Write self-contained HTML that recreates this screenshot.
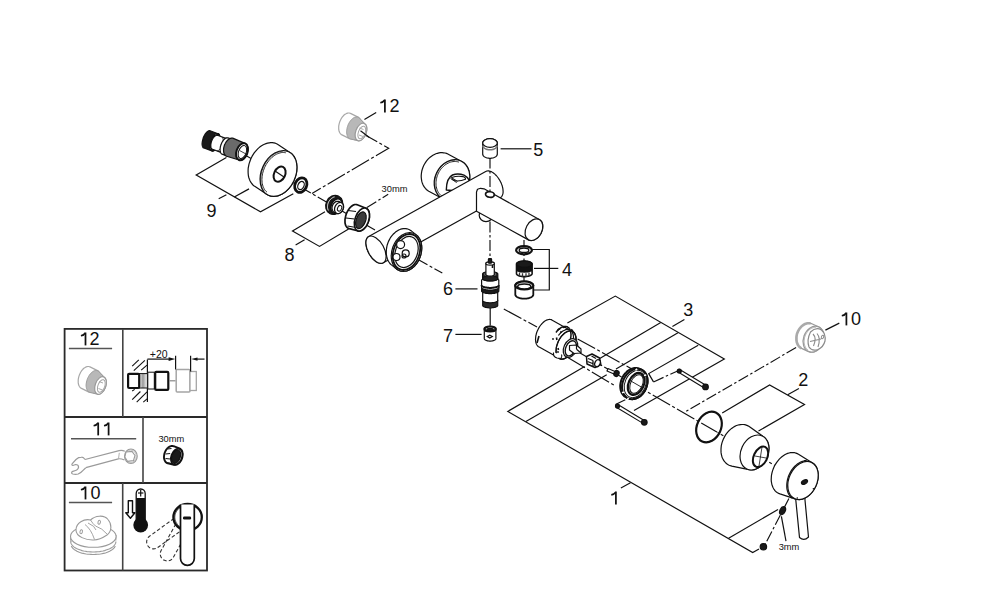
<!DOCTYPE html>
<html><head><meta charset="utf-8"><style>
html,body{margin:0;padding:0;background:#fff;width:1000px;height:610px;overflow:hidden}
svg{display:block}
text{font-family:"Liberation Sans",sans-serif;fill:#111}
.lb{font-size:17.5px}
.sm{font-size:9.5px}
.ln{stroke:#111;stroke-width:1.2;fill:none}
.bx{stroke:#2a2a2a;stroke-width:1.8;fill:none}
.da{stroke:#111;stroke-width:1.15;fill:none;stroke-dasharray:20 2.5 3 2.5}
.dd{stroke:#111;stroke-width:1.15;fill:none;stroke-dasharray:11 2.5 2.5 2.5}
.o{stroke:#111;stroke-width:1.2;fill:#fff;stroke-linejoin:round}
.dk{stroke:#111;stroke-width:1.2;fill:#1a1a1a}
.gr{stroke:#111;stroke-width:1.2;fill:#666}
.g{stroke:#9a9a9a;stroke-width:1;fill:#fff}
</style></head><body>
<svg width="1000" height="610" viewBox="0 0 1000 610">
<polyline points="226.4,157.4 196.2,175.0 260.5,211.8 293.3,193.8" class="ln" />
<line x1="234.3" y1="197.0" x2="249.0" y2="188.9" class="ln" />
<line x1="218.7" y1="198.7" x2="226.4" y2="194.8" class="ln" />
<line x1="364.4" y1="119.5" x2="376.2" y2="112.5" class="ln" />
<polyline points="325.0,211.7 292.5,230.9 319.5,246.4 348.6,228.9" class="ln" />
<line x1="295.6" y1="245.0" x2="304.6" y2="239.8" class="ln" />
<line x1="500.6" y1="148.8" x2="531.5" y2="148.8" class="ln" />
<polyline points="532.1,249.5 549.3,249.5 549.3,290.0 534.0,290.0" class="ln" />
<line x1="534.0" y1="268.4" x2="558.3" y2="268.4" class="ln" />
<line x1="455.4" y1="288.9" x2="477.5" y2="288.9" class="ln" />
<line x1="455.4" y1="334.4" x2="481.6" y2="334.4" class="ln" />
<polyline points="567.4,323.1 615.3,296.1 724.3,359.0 634.0,410.5" class="ln" />
<line x1="660.8" y1="322.6" x2="599.3" y2="358.8" class="ln" />
<line x1="678.0" y1="332.7" x2="616.0" y2="369.0" class="ln" />
<polyline points="698.2,345.2 648.7,373.6 653.5,381.9" class="ln" />
<line x1="653.5" y1="381.9" x2="677.6" y2="371.0" class="dd" />
<line x1="672.4" y1="326.5" x2="684.4" y2="319.6" class="ln" />
<polyline points="584.6,366.6 507.8,411.4 752.7,552.6 759.0,549.1" class="ln" />
<line x1="525.9" y1="421.6" x2="606.7" y2="374.8" class="ln" />
<line x1="728.6" y1="538.2" x2="778.0" y2="509.5" class="ln" />
<line x1="620.9" y1="488.0" x2="630.5" y2="482.8" class="ln" />
<polyline points="722.2,412.9 769.6,385.0 804.5,404.5 758.5,431.0" class="ln" />
<line x1="787.7" y1="394.8" x2="798.9" y2="388.6" class="ln" />
<line x1="825.4" y1="330.1" x2="839.3" y2="323.1" class="ln" />
<line x1="781.4" y1="516.4" x2="786.0" y2="541.1" class="ln" />
<polyline points="245.0,155.0 375.0,230.0" class="da" />
<polyline points="359.8,132.0 388.7,148.3 312.0,193.4" class="da" />
<line x1="366.9" y1="207.4" x2="388.2" y2="194.3" class="dd" />
<line x1="490.2" y1="308.0" x2="490.2" y2="325.4" class="ln" />
<line x1="524.0" y1="240.0" x2="524.0" y2="282.0" class="dd" />
<line x1="410.0" y1="255.0" x2="442.3" y2="273.0" class="da" />
<line x1="503.8" y1="309.0" x2="537.0" y2="327.0" class="da" />
<line x1="577.6" y1="338.9" x2="635.0" y2="370.8" class="da" />
<line x1="567.8" y1="357.6" x2="614.0" y2="385.1" class="da" />
<line x1="580.0" y1="353.0" x2="800.0" y2="480.0" class="da" />
<line x1="796.1" y1="347.6" x2="684.6" y2="412.2" class="dd" />
<line x1="615.5" y1="404.6" x2="625.8" y2="399.4" class="dd" />
<line x1="788.9" y1="498.6" x2="765.3" y2="544.0" class="dd" />
<path d="M202.1,143.9 L202.1,143.2 L202.2,142.5 L202.3,141.8 L202.4,141.1 L202.6,140.3 L202.8,139.6 L203.0,138.8 L203.2,138.0 L203.5,137.3 L203.8,136.6 L204.2,135.8 L204.5,135.2 L204.9,134.5 L205.3,133.9 L205.7,133.3 L206.1,132.8 L206.6,132.3 L207.0,131.9 L207.4,131.5 L207.8,131.2 L208.3,131.0 L208.7,130.8 L209.1,130.7 L209.4,130.6 L209.8,130.7 L210.1,130.8 L218.1,133.7 L218.5,133.8 L218.8,134.0 L219.0,134.3 L219.2,134.6 L219.4,135.0 L219.6,135.5 L219.7,136.0 L219.8,136.6 L219.9,137.2 L219.9,137.8 L219.9,138.5 L219.8,139.2 L219.7,139.9 L219.6,140.6 L219.4,141.4 L219.2,142.1 L219.0,142.9 L218.8,143.7 L218.5,144.4 L218.2,145.1 L217.8,145.9 L217.5,146.5 L217.1,147.2 L216.7,147.8 L216.3,148.4 L215.9,148.9 L215.4,149.4 L215.0,149.8 L214.6,150.2 L214.2,150.5 L213.7,150.7 L213.3,150.9 L212.9,151.0 L212.6,151.1 L212.2,151.0 L211.9,150.9 L203.9,148.0 L203.5,147.9 L203.2,147.7 L203.0,147.4 L202.8,147.1 L202.6,146.7 L202.4,146.2 L202.3,145.7 L202.2,145.1 L202.1,144.5 Z" class="dk" /><ellipse cx="215.0" cy="142.3" rx="4.0" ry="9.2" transform="rotate(20 215.0 142.3)" class="dk" />
<path d="M215.6,134.0 L215.7,134.3 L215.8,134.6 L215.8,135.0 L215.9,135.3 L215.9,135.7 L215.9,136.1 L215.9,136.5 L215.9,136.9 L215.9,137.3 L215.8,137.8 L215.8,138.2 L215.7,138.7 L215.6,139.1 L215.5,139.6 L215.4,140.1 L215.3,140.5 L215.1,141.0 L215.0,141.5 L214.8,141.9 L214.7,142.4 L214.5,142.9 L214.3,143.3 L214.1,143.8 L213.9,144.2 L213.7,144.6 L213.5,145.0 L213.2,145.4 L213.0,145.8 L212.7,146.2 L212.5,146.6 L212.2,146.9 L212.0,147.2 L211.7,147.6 L211.5,147.8 L211.2,148.1 L210.9,148.4 L210.7,148.6 L210.4,148.8 L210.2,149.0" class="ln" style="fill:none;stroke:#777;stroke-width:0.8"/>
<path d="M210.8,145.3 L210.8,144.7 L210.9,144.1 L211.0,143.5 L211.1,142.9 L211.2,142.3 L211.4,141.7 L211.6,141.1 L211.9,140.5 L212.1,139.9 L212.4,139.3 L212.7,138.8 L213.0,138.2 L213.3,137.8 L213.7,137.3 L214.0,136.9 L214.4,136.5 L214.8,136.2 L215.1,135.9 L215.5,135.7 L215.9,135.5 L216.2,135.3 L216.6,135.3 L216.9,135.2 L217.2,135.3 L217.5,135.3 L226.5,138.6 L226.8,138.8 L227.1,139.0 L227.3,139.2 L227.5,139.5 L227.7,139.8 L227.9,140.2 L228.0,140.6 L228.1,141.1 L228.2,141.6 L228.2,142.1 L228.2,142.6 L228.2,143.2 L228.1,143.8 L228.0,144.4 L227.9,145.0 L227.8,145.6 L227.6,146.2 L227.4,146.8 L227.1,147.4 L226.9,148.0 L226.6,148.6 L226.3,149.1 L226.0,149.7 L225.7,150.1 L225.3,150.6 L225.0,151.0 L224.6,151.4 L224.2,151.7 L223.9,152.0 L223.5,152.2 L223.1,152.4 L222.8,152.6 L222.4,152.6 L222.1,152.7 L221.8,152.6 L221.5,152.6 L212.5,149.3 L212.2,149.1 L211.9,148.9 L211.7,148.7 L211.5,148.4 L211.3,148.1 L211.1,147.7 L211.0,147.3 L210.9,146.8 L210.8,146.3 L210.8,145.8 Z" class="o" />
<path d="M222.1,137.2 L222.3,137.4 L222.5,137.6 L222.6,137.8 L222.8,138.1 L222.9,138.4 L223.0,138.8 L223.1,139.1 L223.2,139.5 L223.2,140.0 L223.2,140.4 L223.2,140.8 L223.2,141.3 L223.2,141.8 L223.1,142.3 L223.0,142.8 L222.9,143.3 L222.8,143.8 L222.6,144.3 L222.5,144.8 L222.3,145.3 L222.1,145.8 L221.9,146.2 L221.6,146.7 L221.4,147.2 L221.2,147.6 L220.9,148.0 L220.6,148.4 L220.3,148.8 L220.0,149.1 L219.7,149.4 L219.4,149.7 L219.1,150.0 L218.8,150.2 L218.5,150.4 L218.2,150.6 L217.9,150.7 L217.7,150.8 L217.4,150.8 L217.1,150.9" class="ln" style="fill:none;stroke-width:1"/>
<path d="M224.1,137.9 L224.3,138.1 L224.5,138.3 L224.6,138.5 L224.8,138.8 L224.9,139.1 L225.0,139.5 L225.1,139.8 L225.2,140.2 L225.2,140.7 L225.2,141.1 L225.2,141.5 L225.2,142.0 L225.2,142.5 L225.1,143.0 L225.0,143.5 L224.9,144.0 L224.8,144.5 L224.6,145.0 L224.5,145.5 L224.3,146.0 L224.1,146.5 L223.9,146.9 L223.6,147.4 L223.4,147.9 L223.2,148.3 L222.9,148.7 L222.6,149.1 L222.3,149.5 L222.0,149.8 L221.7,150.1 L221.4,150.4 L221.1,150.7 L220.8,150.9 L220.5,151.1 L220.2,151.3 L219.9,151.4 L219.7,151.5 L219.4,151.5 L219.1,151.6" class="ln" style="fill:none;stroke-width:0.8"/>
<path d="M220.1,149.5 L220.1,148.8 L220.2,148.1 L220.3,147.4 L220.4,146.7 L220.6,146.0 L220.8,145.3 L221.1,144.6 L221.3,143.9 L221.6,143.2 L221.9,142.5 L222.3,141.9 L222.7,141.3 L223.1,140.7 L223.5,140.2 L223.9,139.7 L224.3,139.3 L224.7,138.9 L225.1,138.6 L225.6,138.3 L226.0,138.1 L226.4,137.9 L226.8,137.8 L227.2,137.8 L227.6,137.8 L227.9,137.9 L231.9,139.4 L232.3,139.6 L232.6,139.8 L232.9,140.1 L233.1,140.4 L233.3,140.8 L233.5,141.2 L233.7,141.7 L233.8,142.2 L233.9,142.8 L233.9,143.4 L233.9,144.0 L233.9,144.7 L233.8,145.4 L233.7,146.1 L233.6,146.8 L233.4,147.5 L233.2,148.2 L232.9,148.9 L232.7,149.6 L232.4,150.3 L232.1,151.0 L231.7,151.6 L231.3,152.2 L230.9,152.8 L230.5,153.3 L230.1,153.8 L229.7,154.2 L229.3,154.6 L228.9,154.9 L228.4,155.2 L228.0,155.4 L227.6,155.6 L227.2,155.7 L226.8,155.7 L226.4,155.7 L226.1,155.6 L222.1,154.1 L221.7,153.9 L221.4,153.7 L221.1,153.4 L220.9,153.1 L220.7,152.7 L220.5,152.3 L220.3,151.8 L220.2,151.3 L220.1,150.7 L220.1,150.1 Z" class="o" /><ellipse cx="229.0" cy="147.5" rx="4.2" ry="8.6" transform="rotate(20 229.0 147.5)" class="o" />
<path d="M223.5,150.0 L223.6,149.2 L223.6,148.4 L223.8,147.6 L223.9,146.9 L224.2,146.1 L224.4,145.3 L224.7,144.5 L225.1,143.7 L225.4,143.0 L225.9,142.3 L226.3,141.7 L226.8,141.1 L227.3,140.5 L227.8,140.0 L228.4,139.5 L228.9,139.2 L229.5,138.8 L230.0,138.5 L230.6,138.3 L231.1,138.2 L231.7,138.1 L232.2,138.2 L232.8,138.2 L233.3,138.4 L245.0,143.4 L245.4,143.6 L245.9,143.9 L246.2,144.2 L246.6,144.6 L246.9,145.0 L247.2,145.5 L247.4,146.0 L247.6,146.6 L247.8,147.2 L247.9,147.8 L248.0,148.5 L248.0,149.2 L248.0,149.9 L247.9,150.6 L247.8,151.4 L247.6,152.1 L247.4,152.9 L247.2,153.6 L246.9,154.3 L246.6,155.0 L246.2,155.7 L245.8,156.3 L245.4,156.9 L245.0,157.5 L244.5,158.0 L244.0,158.5 L243.5,158.9 L243.0,159.2 L242.5,159.6 L242.0,159.8 L241.5,160.0 L240.9,160.1 L240.4,160.2 L239.9,160.2 L239.5,160.1 L239.0,160.0 L226.7,156.2 L226.3,156.0 L225.8,155.7 L225.4,155.4 L225.0,155.0 L224.7,154.5 L224.4,154.0 L224.1,153.5 L223.9,152.8 L223.8,152.2 L223.6,151.5 L223.6,150.8 Z" class="gr" style="fill:#6a6a6a"/>
<ellipse cx="242.0" cy="151.7" rx="5.5" ry="8.8" transform="rotate(20 242.0 151.7)" class="o" style="stroke-width:2"/>
<ellipse cx="242.4" cy="152.0" rx="3.8" ry="6.8" transform="rotate(20 242.4 152.0)" class="o" style="stroke-width:1"/>
<line x1="239.5" y1="150.5" x2="246.0" y2="154.0" class="ln" style="stroke-width:0.8"/>
<path d="M248.1,172.1 L248.1,170.2 L248.2,168.2 L248.6,166.2 L249.0,164.2 L249.6,162.2 L250.3,160.2 L251.1,158.3 L252.0,156.4 L253.1,154.6 L254.2,152.9 L255.5,151.3 L256.8,149.8 L258.2,148.4 L259.7,147.1 L261.2,146.0 L262.8,145.0 L264.4,144.2 L266.0,143.6 L267.6,143.1 L269.2,142.8 L270.8,142.6 L272.3,142.6 L273.8,142.8 L275.3,143.2 L276.6,143.7 L277.9,144.5 L289.9,152.5 L291.2,153.3 L292.3,154.3 L293.3,155.5 L294.2,156.8 L295.0,158.3 L295.6,159.8 L296.2,161.5 L296.6,163.2 L296.8,165.0 L296.9,166.9 L296.9,168.8 L296.8,170.8 L296.4,172.8 L296.0,174.8 L295.4,176.8 L294.7,178.8 L293.9,180.7 L293.0,182.6 L291.9,184.4 L290.8,186.1 L289.5,187.7 L288.2,189.2 L286.8,190.6 L285.3,191.9 L283.8,193.0 L282.2,194.0 L280.6,194.8 L279.0,195.4 L277.4,195.9 L275.8,196.2 L274.2,196.4 L272.7,196.4 L271.2,196.2 L269.7,195.8 L268.4,195.3 L267.1,194.5 L255.1,186.5 L253.8,185.7 L252.7,184.7 L251.7,183.5 L250.8,182.2 L250.0,180.7 L249.4,179.2 L248.8,177.5 L248.4,175.8 L248.2,174.0 Z" class="o" /><ellipse cx="278.5" cy="173.5" rx="17.0" ry="24.0" transform="rotate(25 278.5 173.5)" class="o" />
<path d="M266.9,192.1 L266.1,191.4 L265.3,190.5 L264.6,189.6 L264.0,188.5 L263.5,187.4 L263.0,186.3 L262.6,185.0 L262.3,183.7 L262.1,182.4 L262.0,181.0 L261.9,179.5 L262.0,178.0 L262.1,176.5 L262.3,175.0 L262.6,173.5 L263.0,172.0 L263.5,170.5 L264.0,169.0 L264.6,167.5 L265.3,166.1 L266.1,164.6 L266.9,163.3 L267.8,162.0 L268.8,160.7 L269.8,159.6 L270.8,158.5 L271.9,157.4 L273.0,156.5 L274.1,155.6 L275.3,154.9 L276.5,154.2 L277.7,153.7 L278.9,153.2 L280.1,152.9 L281.3,152.6 L282.5,152.5 L283.6,152.5 L284.7,152.6 L285.8,152.8" class="ln" style="fill:none;stroke-width:0.9"/>
<path d="M264.1,191.1 L263.5,190.2 L262.9,189.2 L262.4,188.2 L261.9,187.1 L261.6,186.0 L261.2,184.8 L261.0,183.6 L260.8,182.3 L260.7,181.0 L260.6,179.7 L260.7,178.3 L260.8,176.9 L260.9,175.5 L261.2,174.1 L261.5,172.7 L261.8,171.3 L262.3,170.0 L262.8,168.6 L263.3,167.2 L264.0,165.9 L264.6,164.6 L265.4,163.3 L266.1,162.1 L267.0,160.9 L267.9,159.8 L268.8,158.7 L269.7,157.7 L270.7,156.8 L271.7,155.9 L272.8,155.0 L273.9,154.3 L274.9,153.6 L276.0,153.0 L277.2,152.5 L278.3,152.1 L279.4,151.7 L280.5,151.5 L281.6,151.3 L282.7,151.2" class="ln" style="fill:none;stroke-width:0.7"/>
<line x1="280.0" y1="170.5" x2="282.5" y2="178.0" class="ln" style="stroke-width:0.8"/>
<ellipse cx="279.6" cy="174.2" rx="5.5" ry="8.0" transform="rotate(25 279.6 174.2)" class="o" style="stroke-width:2"/>
<line x1="275.0" y1="171.0" x2="284.0" y2="177.0" class="ln" />
<ellipse cx="300.8" cy="185.1" rx="5.8" ry="7.5" transform="rotate(25 300.8 185.1)" class="o" style="stroke-width:2.8"/>
<ellipse cx="301.0" cy="185.5" rx="3.0" ry="4.3" transform="rotate(25 301.0 185.5)" class="ln" />
<path d="M338.7,127.4 L338.7,126.5 L338.8,125.6 L339.0,124.6 L339.2,123.7 L339.5,122.7 L339.8,121.7 L340.2,120.8 L340.6,119.9 L341.0,119.0 L341.5,118.2 L342.0,117.4 L342.6,116.6 L343.2,116.0 L343.8,115.3 L344.4,114.8 L345.0,114.3 L345.7,113.9 L346.3,113.5 L346.9,113.3 L347.6,113.1 L348.2,113.0 L348.8,113.0 L349.4,113.0 L349.9,113.2 L350.5,113.4 L358.5,117.4 L359.0,117.7 L359.4,118.1 L359.8,118.6 L360.2,119.2 L360.5,119.8 L360.8,120.4 L361.0,121.2 L361.2,122.0 L361.3,122.8 L361.3,123.7 L361.3,124.6 L361.3,125.5 L361.2,126.4 L361.0,127.4 L360.8,128.3 L360.5,129.3 L360.2,130.3 L359.8,131.2 L359.4,132.1 L359.0,133.0 L358.5,133.8 L358.0,134.6 L357.4,135.4 L356.8,136.0 L356.2,136.7 L355.6,137.2 L355.0,137.7 L354.3,138.1 L353.7,138.5 L353.1,138.7 L352.4,138.9 L351.8,139.0 L351.2,139.0 L350.6,139.0 L350.1,138.8 L349.5,138.6 L341.5,134.6 L341.0,134.3 L340.6,133.9 L340.2,133.4 L339.8,132.8 L339.5,132.2 L339.2,131.6 L339.0,130.8 L338.8,130.0 L338.7,129.2 L338.7,128.3 Z" class="g" style="stroke:#a8a8a8;stroke-width:1.2"/><path d="M346.6,131.4 L346.7,130.5 L346.8,129.6 L347.0,128.6 L347.2,127.6 L347.5,126.7 L347.8,125.7 L348.1,124.8 L348.6,123.9 L349.0,123.0 L349.5,122.2 L350.0,121.4 L350.6,120.6 L351.2,119.9 L351.8,119.3 L352.4,118.8 L353.0,118.3 L353.7,117.8 L354.3,117.5 L354.9,117.2 L355.6,117.1 L356.2,117.0 L356.8,117.0 L357.4,117.0 L357.9,117.2 L358.5,117.4 L359.0,117.8 L359.4,118.1 L365.3,124.1 L365.7,124.5 L366.0,124.9 L366.2,125.4 L366.4,126.0 L366.6,126.5 L366.7,127.2 L366.8,127.8 L366.9,128.5 L366.9,129.2 L366.8,130.0 L366.8,130.7 L366.6,131.5 L366.5,132.3 L366.2,133.1 L366.0,133.8 L365.7,134.6 L365.4,135.3 L365.0,136.0 L364.6,136.7 L364.2,137.3 L363.7,137.9 L363.3,138.4 L362.8,138.9 L362.3,139.4 L361.8,139.8 L361.3,140.1 L360.8,140.4 L360.3,140.6 L359.7,140.7 L359.2,140.8 L358.8,140.8 L358.3,140.8 L350.6,139.0 L350.1,138.8 L349.5,138.6 L349.0,138.2 L348.6,137.9 L348.2,137.4 L347.8,136.8 L347.5,136.2 L347.2,135.6 L347.0,134.8 L346.8,134.0 L346.7,133.2 L346.6,132.3 Z" class="g" style="fill:#b8b8b8;stroke:#9a9a9a;stroke-width:1"/><path d="M361.0,120.3 L361.5,120.5 L361.9,120.8 L362.3,121.1 L362.6,121.5 L363.0,121.9 L363.2,122.4 L363.5,122.9 L363.7,123.5 L363.9,124.1 L364.0,124.8 L364.1,125.5 L364.1,126.2 L364.1,126.9 L364.1,127.7 L364.0,128.5 L363.9,129.3 L363.7,130.1 L363.5,130.9 L363.3,131.7 L363.0,132.4 L362.7,133.2 L362.3,133.9 L361.9,134.7 L361.5,135.4 L361.1,136.0 L360.6,136.6 L360.1,137.2 L359.6,137.7 L359.1,138.2 L358.6,138.6 L358.1,139.0 L357.5,139.3 L357.0,139.5 L356.5,139.7 L355.9,139.8 L355.4,139.9 L354.9,139.9 L354.4,139.8 L354.0,139.7" class="ln" style="fill:none;stroke:#999;stroke-width:0.7"/><ellipse cx="361.0" cy="132.0" rx="5.3" ry="9.2" transform="rotate(20 361.0 132.0)" class="g" style="stroke:#999;stroke-width:1.2"/><ellipse cx="361.8" cy="132.5" rx="3.4" ry="6.6" transform="rotate(20 361.8 132.5)" class="g" style="stroke:#a5a5a5;stroke-width:1"/><path d="M359.5,128 L363.5,129.5 M359,135 L363,136.5" class="g" style="stroke:#aaa;stroke-width:1"/><line x1="360.5" y1="130.8" x2="369.0" y2="137.2" class="ln" />
<ellipse cx="334.2" cy="204.9" rx="8.3" ry="9.8" transform="rotate(25 334.2 204.9)" class="dk" />
<ellipse cx="336.6" cy="206.1" rx="5.4" ry="7.6" transform="rotate(25 336.6 206.1)" class="o" style="stroke-width:1.5"/>
<path d="M328.3,210.4 L328.1,210.0 L328.0,209.7 L327.9,209.3 L327.7,208.9 L327.7,208.5 L327.6,208.1 L327.5,207.7 L327.5,207.3 L327.5,206.8 L327.5,206.4 L327.5,206.0 L327.6,205.5 L327.6,205.1 L327.7,204.6 L327.8,204.2 L327.9,203.8 L328.1,203.3 L328.2,202.9 L328.4,202.5 L328.6,202.0 L328.8,201.6 L329.0,201.2 L329.3,200.8 L329.5,200.5 L329.8,200.1 L330.1,199.8 L330.4,199.4 L330.7,199.1 L331.0,198.8 L331.4,198.5 L331.7,198.2 L332.0,198.0 L332.4,197.8 L332.8,197.6 L333.1,197.4 L333.5,197.2 L333.9,197.1 L334.2,197.0 L334.6,196.9" class="ln" style="fill:none;stroke:#fff;stroke-width:1"/>
<path d="M332.0,208.4 L332.0,207.9 L332.0,207.4 L332.1,206.9 L332.2,206.4 L332.3,206.0 L332.5,205.5 L332.7,205.0 L332.9,204.6 L333.2,204.1 L333.5,203.7 L333.8,203.3 L334.1,203.0 L334.4,202.6 L334.8,202.3 L335.2,202.1 L335.5,201.8 L335.9,201.6 L336.3,201.5 L336.7,201.4 L337.1,201.3 L337.5,201.3 L337.9,201.3 L338.3,201.3 L338.6,201.4 L339.0,201.5 L341.5,202.7 L341.8,202.9 L342.1,203.1 L342.4,203.4 L342.6,203.7 L342.8,204.0 L343.0,204.3 L343.2,204.7 L343.3,205.1 L343.4,205.5 L343.5,206.0 L343.5,206.4 L343.5,206.9 L343.5,207.4 L343.4,207.9 L343.3,208.4 L343.2,208.8 L343.0,209.3 L342.8,209.8 L342.6,210.2 L342.3,210.7 L342.0,211.1 L341.7,211.5 L341.4,211.8 L341.1,212.2 L340.7,212.5 L340.3,212.7 L340.0,213.0 L339.6,213.2 L339.2,213.3 L338.8,213.4 L338.4,213.5 L338.0,213.5 L337.6,213.5 L337.2,213.5 L336.9,213.4 L336.5,213.3 L334.0,212.1 L333.7,211.9 L333.4,211.7 L333.1,211.4 L332.9,211.1 L332.7,210.8 L332.5,210.5 L332.3,210.1 L332.2,209.7 L332.1,209.3 L332.0,208.8 Z" class="o" style="stroke-width:1.3"/><ellipse cx="339.0" cy="208.0" rx="4.2" ry="5.8" transform="rotate(25 339.0 208.0)" class="o" style="stroke-width:1.3"/>
<ellipse cx="339.6" cy="208.3" rx="2.0" ry="3.0" transform="rotate(25 339.6 208.3)" class="ln" style="stroke-width:1"/>
<path d="M345.0,221.4 L345.0,220.4 L345.0,219.4 L345.2,218.4 L345.4,217.3 L345.6,216.3 L345.9,215.2 L346.2,214.2 L346.6,213.2 L347.1,212.2 L347.6,211.2 L348.1,210.3 L348.7,209.4 L349.3,208.6 L349.9,207.8 L350.6,207.1 L351.2,206.5 L351.9,206.0 L352.6,205.5 L353.3,205.1 L354.0,204.8 L354.7,204.6 L355.3,204.5 L356.0,204.5 L356.6,204.6 L357.2,204.8 L366.0,208.3 L366.5,208.6 L367.0,208.9 L367.5,209.3 L367.9,209.8 L368.3,210.4 L368.6,211.0 L368.9,211.7 L369.1,212.4 L369.3,213.3 L369.4,214.1 L369.4,215.0 L369.4,216.0 L369.4,216.9 L369.3,217.9 L369.1,218.9 L368.9,219.9 L368.6,220.9 L368.2,221.9 L367.9,222.9 L367.4,223.8 L367.0,224.7 L366.5,225.6 L365.9,226.5 L365.3,227.2 L364.7,228.0 L364.1,228.6 L363.5,229.2 L362.8,229.7 L362.2,230.2 L361.5,230.5 L360.9,230.8 L360.2,231.0 L359.6,231.1 L359.0,231.1 L358.4,231.0 L349.2,228.6 L348.6,228.4 L348.0,228.2 L347.5,227.8 L347.0,227.4 L346.6,226.9 L346.2,226.3 L345.8,225.6 L345.5,224.9 L345.3,224.1 L345.1,223.3 L345.0,222.4 Z" class="o" style="stroke-width:1.7"/>
<path d="M348,210.5 L356,211.5 M346,218 L354.5,219 M347.5,226 L356,227.5" class="ln" style="stroke-width:1.1"/>
<ellipse cx="361.9" cy="219.6" rx="6.8" ry="12.0" transform="rotate(20 361.9 219.6)" class="o" style="stroke-width:1.6"/>
<ellipse cx="360.9" cy="220.2" rx="4.7" ry="8.7" transform="rotate(20 360.9 220.2)" class="gr" style="fill:#3a3a3a"/>
<path d="M421.2,176.3 L421.3,174.5 L421.5,172.8 L421.8,171.0 L422.3,169.2 L422.9,167.5 L423.6,165.8 L424.4,164.2 L425.4,162.6 L426.4,161.1 L427.6,159.7 L428.8,158.4 L430.1,157.3 L431.5,156.2 L432.9,155.3 L434.4,154.5 L435.9,153.8 L437.4,153.3 L439.0,152.9 L440.5,152.7 L442.1,152.7 L443.6,152.8 L445.1,153.0 L446.5,153.4 L447.9,154.0 L449.2,154.7 L462.2,161.7 L463.4,162.5 L464.6,163.5 L465.6,164.6 L466.6,165.8 L467.4,167.1 L468.1,168.5 L468.7,170.0 L469.2,171.6 L469.5,173.3 L469.7,175.0 L469.8,176.7 L469.7,178.5 L469.5,180.2 L469.2,182.0 L468.7,183.8 L468.1,185.5 L467.4,187.2 L466.6,188.8 L465.6,190.4 L464.6,191.9 L463.4,193.3 L462.2,194.6 L460.9,195.7 L459.5,196.8 L458.1,197.7 L456.6,198.5 L455.1,199.2 L453.6,199.7 L452.0,200.1 L450.5,200.3 L448.9,200.3 L447.4,200.2 L445.9,200.0 L444.5,199.6 L443.1,199.0 L441.8,198.3 L428.8,191.3 L427.6,190.5 L426.4,189.5 L425.4,188.4 L424.4,187.2 L423.6,185.9 L422.9,184.5 L422.3,183.0 L421.8,181.4 L421.5,179.7 L421.3,178.0 Z" class="o" /><ellipse cx="452.0" cy="180.0" rx="17.0" ry="21.0" transform="rotate(25 452.0 180.0)" class="o" />
<path d="M442.7,196.8 L441.8,196.1 L440.9,195.4 L440.0,194.5 L439.2,193.6 L438.5,192.6 L437.9,191.6 L437.4,190.4 L436.9,189.2 L436.6,188.0 L436.3,186.7 L436.1,185.4 L436.0,184.0 L436.0,182.6 L436.1,181.2 L436.3,179.8 L436.6,178.4 L436.9,177.0 L437.4,175.6 L437.9,174.2 L438.5,172.9 L439.2,171.6 L440.0,170.4 L440.8,169.2 L441.7,168.1 L442.7,167.1 L443.7,166.1 L444.8,165.2 L445.9,164.4 L447.0,163.7 L448.2,163.1 L449.4,162.5 L450.6,162.1 L451.8,161.8 L453.0,161.6 L454.2,161.5 L455.4,161.5 L456.6,161.6 L457.8,161.8 L458.9,162.1" class="ln" style="fill:none;stroke-width:0.9"/>
<path d="M439.7,196.2 L438.9,195.4 L438.2,194.6 L437.6,193.7 L437.0,192.7 L436.4,191.7 L436.0,190.6 L435.6,189.5 L435.2,188.3 L435.0,187.1 L434.8,185.9 L434.7,184.7 L434.6,183.4 L434.6,182.1 L434.8,180.8 L434.9,179.5 L435.2,178.2 L435.5,176.9 L435.9,175.7 L436.3,174.4 L436.9,173.2 L437.4,172.0 L438.1,170.8 L438.8,169.7 L439.6,168.6 L440.4,167.6 L441.2,166.6 L442.1,165.7 L443.1,164.8 L444.1,164.0 L445.1,163.2 L446.1,162.6 L447.2,162.0 L448.3,161.5 L449.4,161.0 L450.5,160.7 L451.7,160.4 L452.8,160.2 L453.9,160.1 L455.0,160.1" class="ln" style="fill:none;stroke-width:0.7"/>
<path d="M446.3,190 Q446.5,178 452.5,175 Q458,172.8 464,175.2 Q467.5,177 469,180 L469,192 Z" class="o" style="stroke-width:1.4"/>
<path d="M451.8,177.5 Q457,175.6 463,176.6 Q466,177.7 465.5,179.3 Q461,181.3 456,181 Q452,180 451.8,177.5 Z" class="ln" style="stroke-width:1.1"/>
<path d="M450.5,178.5 L456.7,182.6 M451.5,177.6 L457.5,181.3" class="ln" style="stroke-width:0.9"/>
<path d="M365.9,243.2 L365.9,242.1 L366.0,241.2 L366.2,240.3 L366.5,239.4 L366.8,238.7 L367.2,238.0 L367.6,237.5 L368.1,237.0 L368.7,236.6 L485.7,171.5 L486.4,171.2 L487.1,171.0 L487.8,170.9 L488.6,170.9 L489.4,171.1 L490.2,171.3 L491.1,171.6 L491.9,172.1 L492.8,172.6 L493.7,173.2 L494.6,173.9 L495.4,174.7 L496.3,175.5 L497.1,176.5 L497.9,177.5 L498.6,178.5 L499.3,179.6 L500.0,180.7 L500.6,181.9 L501.2,183.1 L501.6,184.2 L502.1,185.4 L502.4,186.6 L502.7,187.8 L502.9,188.9 L503.0,190.1 L503.1,191.1 L503.1,192.2 L503.0,193.1 L502.8,194.0 L502.5,194.9 L502.2,195.6 L501.8,196.3 L501.4,196.8 L500.9,197.3 L500.3,197.7 L383.3,262.8 L382.6,263.1 L381.9,263.3 L381.2,263.4 L380.4,263.4 L379.6,263.2 L378.8,263.0 L377.9,262.7 L377.1,262.2 L376.2,261.7 L375.3,261.1 L374.4,260.4 L373.6,259.6 L372.7,258.8 L371.9,257.8 L371.1,256.8 L370.4,255.8 L369.7,254.7 L369.0,253.6 L368.4,252.4 L367.8,251.2 L367.4,250.1 L366.9,248.9 L366.6,247.7 L366.3,246.5 L366.1,245.4 L366.0,244.2 Z" class="o" />
<ellipse cx="486.0" cy="215.3" rx="6.8" ry="6.3" transform="rotate(0 486.0 215.3)" class="o" />
<path d="M476.5,192.0 L477.5,189.3 L480.5,188.3 L484.0,188.8 L539.3,219.5 L539.9,219.9 L540.4,220.4 L540.9,220.9 L541.4,221.4 L541.8,222.1 L542.1,222.8 L542.4,223.5 L542.6,224.3 L542.7,225.2 L542.8,226.1 L542.8,227.0 L542.7,227.9 L542.6,228.8 L542.4,229.8 L542.1,230.7 L541.8,231.6 L541.4,232.6 L541.0,233.5 L540.5,234.3 L539.9,235.2 L539.3,236.0 L538.7,236.7 L538.0,237.4 L537.3,238.0 L536.6,238.6 L535.8,239.1 L535.1,239.5 L534.3,239.9 L533.5,240.2 L532.8,240.4 L532.0,240.5 L531.2,240.5 L530.5,240.5 L529.8,240.4 L529.1,240.1 L528.5,239.9 L476.5,211.2 Z" class="o"/>
<ellipse cx="533.9" cy="229.7" rx="8.0" ry="11.5" transform="rotate(28 533.9 229.7)" class="o" />
<ellipse cx="489.9" cy="194.5" rx="4.4" ry="2.8" transform="rotate(8 489.9 194.5)" class="o" style="stroke-width:1.7"/>
<ellipse cx="376.0" cy="249.7" rx="8.0" ry="15.0" transform="rotate(-29 376.0 249.7)" class="o" />
<path d="M386.3,251.4 L386.4,249.8 L386.6,248.1 L386.9,246.4 L387.3,244.7 L387.9,243.0 L388.5,241.4 L389.3,239.9 L390.1,238.3 L391.0,236.9 L392.0,235.6 L393.1,234.3 L394.3,233.2 L395.5,232.1 L396.7,231.2 L398.0,230.4 L399.3,229.8 L400.6,229.2 L401.9,228.9 L403.3,228.6 L404.6,228.6 L405.9,228.6 L407.1,228.8 L408.3,229.2 L409.5,229.7 L410.6,230.4 L411.6,231.1 L416.6,235.1 L417.6,236.0 L418.5,237.1 L419.2,238.2 L419.9,239.4 L420.5,240.8 L421.0,242.2 L421.3,243.7 L421.6,245.3 L421.7,246.9 L421.7,248.6 L421.6,250.2 L421.4,251.9 L421.1,253.6 L420.7,255.3 L420.1,257.0 L419.5,258.6 L418.7,260.1 L417.9,261.7 L417.0,263.1 L416.0,264.4 L414.9,265.7 L413.7,266.8 L412.5,267.9 L411.3,268.8 L410.0,269.6 L408.7,270.2 L407.4,270.8 L406.1,271.1 L404.7,271.4 L403.4,271.4 L402.1,271.4 L400.9,271.2 L399.7,270.8 L398.5,270.3 L397.4,269.6 L396.4,268.9 L391.4,264.9 L390.4,264.0 L389.5,262.9 L388.8,261.8 L388.1,260.6 L387.5,259.2 L387.0,257.8 L386.7,256.3 L386.4,254.7 L386.3,253.1 Z" class="o" /><ellipse cx="406.5" cy="252.0" rx="14.5" ry="20.0" transform="rotate(20 406.5 252.0)" class="o" />
<ellipse cx="406.5" cy="252.0" rx="13.0" ry="18.5" transform="rotate(20 406.5 252.0)" class="o" style="stroke-width:1.8"/>
<ellipse cx="406.5" cy="252.0" rx="11.0" ry="16.0" transform="rotate(20 406.5 252.0)" class="ln" />
<circle cx="400.6" cy="244.6" r="4" class="o"/><circle cx="405.7" cy="253.4" r="3.5" class="o"/><circle cx="396.5" cy="257" r="3.5" class="o"/><circle cx="404" cy="256" r="2" class="ln"/>
<line x1="490.0" y1="157.5" x2="490.0" y2="192.5" class="dd" />
<line x1="490.0" y1="221.5" x2="490.0" y2="259.0" class="dd" />
<path d="M482.7,143.0 L482.7,142.6 L482.8,142.3 L482.9,141.9 L483.1,141.5 L483.4,141.2 L483.7,140.8 L484.0,140.5 L484.4,140.2 L484.8,140.0 L485.3,139.7 L485.8,139.5 L486.4,139.3 L486.9,139.1 L487.5,139.0 L488.1,138.8 L488.7,138.8 L489.4,138.7 L490.0,138.7 L490.6,138.7 L491.3,138.8 L491.9,138.8 L492.5,139.0 L493.1,139.1 L493.6,139.3 L494.2,139.5 L494.7,139.7 L495.2,140.0 L495.6,140.2 L496.0,140.5 L496.3,140.8 L496.6,141.2 L496.9,141.5 L497.1,141.9 L497.2,142.3 L497.3,142.6 L497.3,143.0 L497.3,154.0 L497.3,154.4 L497.2,154.7 L497.1,155.1 L496.9,155.5 L496.6,155.8 L496.3,156.2 L496.0,156.5 L495.6,156.8 L495.2,157.0 L494.7,157.3 L494.2,157.5 L493.6,157.7 L493.1,157.9 L492.5,158.0 L491.9,158.2 L491.3,158.2 L490.6,158.3 L490.0,158.3 L489.4,158.3 L488.7,158.2 L488.1,158.2 L487.5,158.0 L486.9,157.9 L486.4,157.7 L485.8,157.5 L485.3,157.3 L484.8,157.0 L484.4,156.8 L484.0,156.5 L483.7,156.2 L483.4,155.8 L483.1,155.5 L482.9,155.1 L482.8,154.7 L482.7,154.4 L482.7,154.0 Z" class="o" />
<path d="M497.1,145.5 L497.1,145.8 L497.0,146.2 L496.9,146.5 L496.7,146.9 L496.5,147.2 L496.3,147.5 L496.0,147.8 L495.7,148.1 L495.3,148.4 L494.9,148.6 L494.5,148.8 L494.0,149.0 L493.6,149.2 L493.0,149.4 L492.5,149.5 L492.0,149.6 L491.4,149.7 L490.9,149.8 L490.3,149.8 L489.7,149.8 L489.1,149.8 L488.6,149.7 L488.0,149.6 L487.5,149.5 L487.0,149.4 L486.4,149.2 L486.0,149.0 L485.5,148.8 L485.1,148.6 L484.7,148.4 L484.3,148.1 L484.0,147.8 L483.7,147.5 L483.5,147.2 L483.3,146.9 L483.1,146.5 L483.0,146.2 L482.9,145.8 L482.9,145.5" class="ln" style="fill:none;stroke:#777;stroke-width:1.6"/>
<ellipse cx="490.0" cy="143.0" rx="7.3" ry="4.3" transform="rotate(0 490.0 143.0)" class="o" />
<ellipse cx="524.0" cy="250.2" rx="7.9" ry="4.1" transform="rotate(0 524.0 250.2)" class="o" style="stroke-width:2.2"/>
<ellipse cx="524.0" cy="250.2" rx="4.8" ry="2.2" transform="rotate(0 524.0 250.2)" class="ln" style="stroke-width:1.3"/>
<path d="M516.5,264.1 L516.5,263.8 L516.6,263.6 L516.8,263.3 L517.0,263.1 L517.2,262.8 L517.5,262.6 L517.9,262.4 L518.3,262.2 L518.8,262.0 L519.3,261.8 L519.8,261.6 L520.4,261.5 L521.0,261.4 L521.6,261.3 L522.3,261.2 L522.9,261.1 L523.6,261.1 L524.3,261.1 L525.0,261.1 L525.7,261.1 L526.3,261.2 L527.0,261.3 L527.6,261.4 L528.2,261.5 L528.8,261.6 L529.3,261.8 L529.8,262.0 L530.3,262.2 L530.7,262.4 L531.1,262.6 L531.4,262.8 L531.6,263.1 L531.8,263.3 L532.0,263.6 L532.1,263.8 L532.1,264.1 L532.1,273.6 L532.1,273.9 L532.0,274.1 L531.8,274.4 L531.6,274.6 L531.4,274.9 L531.1,275.1 L530.7,275.3 L530.3,275.5 L529.8,275.7 L529.3,275.9 L528.8,276.1 L528.2,276.2 L527.6,276.3 L527.0,276.4 L526.3,276.5 L525.7,276.6 L525.0,276.6 L524.3,276.6 L523.6,276.6 L522.9,276.6 L522.3,276.5 L521.6,276.4 L521.0,276.3 L520.4,276.2 L519.8,276.1 L519.3,275.9 L518.8,275.7 L518.3,275.5 L517.9,275.3 L517.5,275.1 L517.2,274.9 L517.0,274.6 L516.8,274.4 L516.6,274.1 L516.5,273.9 L516.5,273.6 Z" class="o" style="stroke-width:1.6"/>
<path d="M516.5,264 L516.5,271.2 Q524.3,274.5 532.1,271.2 L532.1,264 Z" style="fill:#111"/>
<ellipse cx="524.3" cy="264.1" rx="7.8" ry="3.1" transform="rotate(0 524.3 264.1)" class="dk" />
<path d="M519.5,272.5 L519.5,276 M522.5,273.2 L522.5,276.7 M526,273.2 L526,276.7 M529,272.5 L529,276" style="stroke:#333;stroke-width:1.3"/>
<path d="M515.3,285.5 L515.3,285.1 L515.4,284.8 L515.6,284.4 L515.8,284.1 L516.1,283.7 L516.5,283.4 L516.9,283.1 L517.4,282.8 L517.9,282.5 L518.5,282.3 L519.1,282.1 L519.8,281.9 L520.5,281.7 L521.2,281.6 L522.0,281.4 L522.7,281.4 L523.5,281.3 L524.3,281.3 L525.1,281.3 L525.9,281.4 L526.6,281.4 L527.4,281.6 L528.1,281.7 L528.8,281.9 L529.5,282.1 L530.1,282.3 L530.7,282.5 L531.2,282.8 L531.7,283.1 L532.1,283.4 L532.5,283.7 L532.8,284.1 L533.0,284.4 L533.2,284.8 L533.3,285.1 L533.3,285.5 L533.3,294.5 L533.3,294.9 L533.2,295.2 L533.0,295.6 L532.8,295.9 L532.5,296.3 L532.1,296.6 L531.7,296.9 L531.2,297.2 L530.7,297.5 L530.1,297.7 L529.5,297.9 L528.8,298.1 L528.1,298.3 L527.4,298.4 L526.6,298.6 L525.9,298.6 L525.1,298.7 L524.3,298.7 L523.5,298.7 L522.7,298.6 L522.0,298.6 L521.2,298.4 L520.5,298.3 L519.8,298.1 L519.1,297.9 L518.5,297.7 L517.9,297.5 L517.4,297.2 L516.9,296.9 L516.5,296.6 L516.1,296.3 L515.8,295.9 L515.6,295.6 L515.4,295.2 L515.3,294.9 L515.3,294.5 Z" class="o" style="stroke-width:1.8"/>
<ellipse cx="524.3" cy="285.5" rx="9.0" ry="4.0" transform="rotate(0 524.3 285.5)" class="o" style="stroke-width:2.2"/>
<ellipse cx="524.3" cy="286.6" rx="6.6" ry="2.6" transform="rotate(0 524.3 286.6)" class="ln" style="stroke-width:1.6"/>
<path d="M482.7,300.5 L482.7,300.3 L482.8,300.1 L483.0,299.9 L483.2,299.7 L483.4,299.5 L483.7,299.4 L484.1,299.2 L484.5,299.0 L484.9,298.9 L485.4,298.7 L485.9,298.6 L486.4,298.5 L487.0,298.4 L487.6,298.3 L488.3,298.3 L488.9,298.2 L489.5,298.2 L490.2,298.2 L490.9,298.2 L491.5,298.2 L492.1,298.3 L492.8,298.3 L493.4,298.4 L493.9,298.5 L494.5,298.6 L495.0,298.7 L495.5,298.9 L495.9,299.0 L496.3,299.2 L496.7,299.4 L497.0,299.5 L497.2,299.7 L497.4,299.9 L497.6,300.1 L497.7,300.3 L497.7,300.5 L497.7,305.5 L497.7,305.7 L497.6,305.9 L497.4,306.1 L497.2,306.3 L497.0,306.5 L496.7,306.6 L496.3,306.8 L495.9,307.0 L495.5,307.1 L495.0,307.3 L494.5,307.4 L493.9,307.5 L493.4,307.6 L492.8,307.7 L492.1,307.7 L491.5,307.8 L490.9,307.8 L490.2,307.8 L489.5,307.8 L488.9,307.8 L488.3,307.7 L487.6,307.7 L487.0,307.6 L486.4,307.5 L485.9,307.4 L485.4,307.3 L484.9,307.1 L484.5,307.0 L484.1,306.8 L483.7,306.6 L483.4,306.5 L483.2,306.3 L483.0,306.1 L482.8,305.9 L482.7,305.7 L482.7,305.5 Z" class="dk" style="fill:#2a2a2a"/>
<path d="M482.7,292.5 L482.7,292.3 L482.8,292.1 L483.0,291.9 L483.2,291.7 L483.4,291.5 L483.7,291.4 L484.1,291.2 L484.5,291.0 L484.9,290.9 L485.4,290.7 L485.9,290.6 L486.4,290.5 L487.0,290.4 L487.6,290.3 L488.3,290.3 L488.9,290.2 L489.5,290.2 L490.2,290.2 L490.9,290.2 L491.5,290.2 L492.1,290.3 L492.8,290.3 L493.4,290.4 L493.9,290.5 L494.5,290.6 L495.0,290.7 L495.5,290.9 L495.9,291.0 L496.3,291.2 L496.7,291.4 L497.0,291.5 L497.2,291.7 L497.4,291.9 L497.6,292.1 L497.7,292.3 L497.7,292.5 L497.7,300.5 L497.7,300.7 L497.6,300.9 L497.4,301.1 L497.2,301.3 L497.0,301.5 L496.7,301.6 L496.3,301.8 L495.9,302.0 L495.5,302.1 L495.0,302.3 L494.5,302.4 L493.9,302.5 L493.4,302.6 L492.8,302.7 L492.1,302.7 L491.5,302.8 L490.9,302.8 L490.2,302.8 L489.5,302.8 L488.9,302.8 L488.3,302.7 L487.6,302.7 L487.0,302.6 L486.4,302.5 L485.9,302.4 L485.4,302.3 L484.9,302.1 L484.5,302.0 L484.1,301.8 L483.7,301.6 L483.4,301.5 L483.2,301.3 L483.0,301.1 L482.8,300.9 L482.7,300.7 L482.7,300.5 Z" class="o" />
<path d="M481.6,287.5 L481.6,287.3 L481.7,287.0 L481.9,286.8 L482.1,286.6 L482.4,286.4 L482.8,286.2 L483.2,286.0 L483.6,285.8 L484.1,285.7 L484.7,285.5 L485.3,285.4 L485.9,285.2 L486.6,285.1 L487.3,285.1 L488.0,285.0 L488.7,284.9 L489.5,284.9 L490.2,284.9 L490.9,284.9 L491.7,284.9 L492.4,285.0 L493.1,285.1 L493.8,285.1 L494.5,285.2 L495.1,285.4 L495.7,285.5 L496.3,285.7 L496.8,285.8 L497.2,286.0 L497.6,286.2 L498.0,286.4 L498.3,286.6 L498.5,286.8 L498.7,287.0 L498.8,287.3 L498.8,287.5 L498.8,291.0 L498.8,291.2 L498.7,291.5 L498.5,291.7 L498.3,291.9 L498.0,292.1 L497.6,292.3 L497.2,292.5 L496.8,292.7 L496.3,292.8 L495.7,293.0 L495.1,293.1 L494.5,293.3 L493.8,293.4 L493.1,293.4 L492.4,293.5 L491.7,293.6 L490.9,293.6 L490.2,293.6 L489.5,293.6 L488.7,293.6 L488.0,293.5 L487.3,293.4 L486.6,293.4 L485.9,293.3 L485.3,293.1 L484.7,293.0 L484.1,292.8 L483.6,292.7 L483.2,292.5 L482.8,292.3 L482.4,292.1 L482.1,291.9 L481.9,291.7 L481.7,291.5 L481.6,291.2 L481.6,291.0 Z" class="dk" />
<path d="M481.6,280.5 L481.6,280.3 L481.7,280.0 L481.9,279.8 L482.1,279.6 L482.4,279.4 L482.8,279.2 L483.2,279.0 L483.6,278.8 L484.1,278.7 L484.7,278.5 L485.3,278.4 L485.9,278.2 L486.6,278.1 L487.3,278.1 L488.0,278.0 L488.7,277.9 L489.5,277.9 L490.2,277.9 L490.9,277.9 L491.7,277.9 L492.4,278.0 L493.1,278.1 L493.8,278.1 L494.5,278.2 L495.1,278.4 L495.7,278.5 L496.3,278.7 L496.8,278.8 L497.2,279.0 L497.6,279.2 L498.0,279.4 L498.3,279.6 L498.5,279.8 L498.7,280.0 L498.8,280.3 L498.8,280.5 L498.8,287.5 L498.8,287.7 L498.7,288.0 L498.5,288.2 L498.3,288.4 L498.0,288.6 L497.6,288.8 L497.2,289.0 L496.8,289.2 L496.3,289.3 L495.7,289.5 L495.1,289.6 L494.5,289.8 L493.8,289.9 L493.1,289.9 L492.4,290.0 L491.7,290.1 L490.9,290.1 L490.2,290.1 L489.5,290.1 L488.7,290.1 L488.0,290.0 L487.3,289.9 L486.6,289.9 L485.9,289.8 L485.3,289.6 L484.7,289.5 L484.1,289.3 L483.6,289.2 L483.2,289.0 L482.8,288.8 L482.4,288.6 L482.1,288.4 L481.9,288.2 L481.7,288.0 L481.6,287.7 L481.6,287.5 Z" class="o" />
<path d="M498.8,285.3 L498.8,285.5 L498.7,285.7 L498.6,285.9 L498.4,286.1 L498.1,286.3 L497.8,286.5 L497.5,286.7 L497.1,286.9 L496.6,287.0 L496.2,287.2 L495.6,287.3 L495.1,287.4 L494.5,287.6 L493.9,287.6 L493.2,287.7 L492.6,287.8 L491.9,287.8 L491.2,287.9 L490.5,287.9 L489.9,287.9 L489.2,287.9 L488.5,287.8 L487.8,287.8 L487.2,287.7 L486.5,287.6 L485.9,287.6 L485.3,287.4 L484.8,287.3 L484.2,287.2 L483.8,287.0 L483.3,286.9 L482.9,286.7 L482.6,286.5 L482.3,286.3 L482.0,286.1 L481.8,285.9 L481.7,285.7 L481.6,285.5 L481.6,285.3" class="ln" style="fill:none;stroke-width:2"/>
<path d="M482.6,274.0 L482.6,273.8 L482.7,273.6 L482.9,273.4 L483.1,273.2 L483.3,273.0 L483.6,272.8 L484.0,272.6 L484.4,272.5 L484.8,272.3 L485.3,272.2 L485.8,272.0 L486.4,271.9 L487.0,271.8 L487.6,271.7 L488.2,271.7 L488.9,271.6 L489.5,271.6 L490.2,271.6 L490.9,271.6 L491.5,271.6 L492.2,271.7 L492.8,271.7 L493.4,271.8 L494.0,271.9 L494.6,272.0 L495.1,272.2 L495.6,272.3 L496.0,272.5 L496.4,272.6 L496.8,272.8 L497.1,273.0 L497.3,273.2 L497.5,273.4 L497.7,273.6 L497.8,273.8 L497.8,274.0 L497.8,278.5 L497.8,278.7 L497.7,278.9 L497.5,279.1 L497.3,279.3 L497.1,279.5 L496.8,279.7 L496.4,279.9 L496.0,280.0 L495.6,280.2 L495.1,280.3 L494.6,280.5 L494.0,280.6 L493.4,280.7 L492.8,280.8 L492.2,280.8 L491.5,280.9 L490.9,280.9 L490.2,280.9 L489.5,280.9 L488.9,280.9 L488.2,280.8 L487.6,280.8 L487.0,280.7 L486.4,280.6 L485.8,280.5 L485.3,280.3 L484.8,280.2 L484.4,280.0 L484.0,279.9 L483.6,279.7 L483.3,279.5 L483.1,279.3 L482.9,279.1 L482.7,278.9 L482.6,278.7 L482.6,278.5 Z" class="dk" style="fill:#222"/><ellipse cx="490.2" cy="278.5" rx="7.6" ry="2.4" transform="rotate(0 490.2 278.5)" class="dk" style="fill:#222"/>
<ellipse cx="490.2" cy="274.3" rx="5.5" ry="1.6" transform="rotate(0 490.2 274.3)" class="ln" style="stroke:#666"/>
<path d="M485.9,263.5 L485.9,263.4 L486.0,263.2 L486.0,263.1 L486.2,263.0 L486.3,262.8 L486.5,262.7 L486.7,262.6 L486.9,262.5 L487.1,262.4 L487.4,262.3 L487.7,262.2 L488.0,262.1 L488.3,262.0 L488.7,262.0 L489.0,262.0 L489.4,261.9 L489.7,261.9 L490.1,261.9 L490.5,261.9 L490.8,261.9 L491.2,262.0 L491.5,262.0 L491.9,262.0 L492.2,262.1 L492.5,262.2 L492.8,262.3 L493.1,262.4 L493.3,262.5 L493.5,262.6 L493.7,262.7 L493.9,262.8 L494.0,263.0 L494.2,263.1 L494.2,263.2 L494.3,263.4 L494.3,263.5 L494.3,274.5 L494.3,274.6 L494.2,274.8 L494.2,274.9 L494.0,275.0 L493.9,275.2 L493.7,275.3 L493.5,275.4 L493.3,275.5 L493.1,275.6 L492.8,275.7 L492.5,275.8 L492.2,275.9 L491.9,276.0 L491.5,276.0 L491.2,276.0 L490.8,276.1 L490.5,276.1 L490.1,276.1 L489.7,276.1 L489.4,276.1 L489.0,276.0 L488.7,276.0 L488.3,276.0 L488.0,275.9 L487.7,275.8 L487.4,275.7 L487.1,275.6 L486.9,275.5 L486.7,275.4 L486.5,275.3 L486.3,275.2 L486.2,275.0 L486.0,274.9 L486.0,274.8 L485.9,274.6 L485.9,274.5 Z" class="o" />
<ellipse cx="490.1" cy="263.5" rx="4.2" ry="1.6" transform="rotate(0 490.1 263.5)" class="o" />
<rect x="488.4" y="258.6" width="3.2" height="4.6" rx="0.8" class="dk"/>
<line x1="492.5" y1="265.0" x2="492.5" y2="268.0" class="ln" style="stroke-width:1.6"/>
<path d="M484.3,329.0 L484.3,328.8 L484.4,328.5 L484.5,328.3 L484.6,328.1 L484.8,327.9 L485.1,327.7 L485.3,327.5 L485.7,327.3 L486.0,327.2 L486.4,327.0 L486.8,326.9 L487.2,326.7 L487.6,326.6 L488.1,326.6 L488.6,326.5 L489.1,326.4 L489.6,326.4 L490.1,326.4 L490.6,326.4 L491.1,326.4 L491.6,326.5 L492.1,326.6 L492.6,326.6 L493.0,326.7 L493.4,326.9 L493.8,327.0 L494.2,327.2 L494.5,327.3 L494.9,327.5 L495.1,327.7 L495.4,327.9 L495.6,328.1 L495.7,328.3 L495.8,328.5 L495.9,328.8 L495.9,329.0 L495.9,338.5 L495.9,338.7 L495.8,339.0 L495.7,339.2 L495.6,339.4 L495.4,339.6 L495.1,339.8 L494.9,340.0 L494.5,340.2 L494.2,340.3 L493.8,340.5 L493.4,340.6 L493.0,340.8 L492.6,340.9 L492.1,340.9 L491.6,341.0 L491.1,341.1 L490.6,341.1 L490.1,341.1 L489.6,341.1 L489.1,341.1 L488.6,341.0 L488.1,340.9 L487.6,340.9 L487.2,340.8 L486.8,340.6 L486.4,340.5 L486.0,340.3 L485.7,340.2 L485.3,340.0 L485.1,339.8 L484.8,339.6 L484.6,339.4 L484.5,339.2 L484.4,339.0 L484.3,338.7 L484.3,338.5 Z" class="o" />
<ellipse cx="490.1" cy="329.0" rx="5.6" ry="2.5" transform="rotate(0 490.1 329.0)" class="o" style="stroke-width:2.2"/>
<ellipse cx="490.1" cy="329.6" rx="3.2" ry="1.3" transform="rotate(0 490.1 329.6)" class="dk" />
<path d="M487.3,336.6 L489.8,335.2 L492.3,336.6 L489.8,338 Z" class="ln"/>
<path d="M535.5,339.5 L535.6,338.4 L535.7,337.2 L535.8,336.0 L536.1,334.8 L536.4,333.5 L536.8,332.3 L537.3,331.1 L537.8,329.9 L538.4,328.7 L539.0,327.6 L539.7,326.5 L540.4,325.5 L541.2,324.5 L542.0,323.6 L542.8,322.8 L543.7,322.0 L544.5,321.3 L545.4,320.8 L546.3,320.3 L547.1,319.9 L548.0,319.7 L548.8,319.5 L549.6,319.4 L550.4,319.5 L551.1,319.6 L551.8,319.9 L572.3,331.4 L573.0,331.8 L573.6,332.2 L574.1,332.8 L574.6,333.5 L575.0,334.2 L575.3,335.0 L575.6,335.9 L575.8,336.9 L575.9,337.9 L576.0,339.0 L575.9,340.1 L575.8,341.3 L575.7,342.5 L575.4,343.7 L575.1,345.0 L574.7,346.2 L574.2,347.4 L573.7,348.6 L573.1,349.8 L572.5,350.9 L571.8,352.0 L571.1,353.0 L570.3,354.0 L569.5,354.9 L568.7,355.7 L567.8,356.5 L567.0,357.2 L566.1,357.7 L565.2,358.2 L564.4,358.6 L563.5,358.8 L562.7,359.0 L561.9,359.1 L561.1,359.0 L560.4,358.9 L559.7,358.6 L539.2,347.1 L538.5,346.7 L537.9,346.3 L537.4,345.7 L536.9,345.0 L536.5,344.3 L536.2,343.5 L535.9,342.6 L535.7,341.6 L535.6,340.6 Z" class="o" /><ellipse cx="566.0" cy="345.0" rx="8.5" ry="15.0" transform="rotate(25 566.0 345.0)" class="o" />
<path d="M573.7,348.6 L572.6,350.7 L571.3,352.7 L569.9,354.5 L568.4,356.0 L566.8,357.3 L565.2,358.2 L563.6,358.8 L562.1,359.1 L560.6,358.9 L559.4,358.4 L558.2,357.6 L557.3,356.4 L556.7,355.0 L556.2,353.3 L556.0,351.3 L556.1,349.2 L556.4,347.0 L557.0,344.8 L557.8,342.5 L558.8,340.3 L560.0,338.3 L561.4,336.4 L562.9,334.7 L564.4,333.3 L566.0,332.2 L567.6,331.4 L569.2,331.0 L570.7,331.0 L572.0,331.3 L573.2,331.9 L574.2,332.9 L575.0,334.3 L575.6,335.9 L575.9,337.7 L576.0,339.7 L575.8,341.9 L575.3,344.1 L574.6,346.4 L573.7,348.6" class="ln" style="fill:none"/>
<path d="M558.4,335.5 L558.9,334.8 L559.5,334.2 L560.0,333.6 L560.5,333.0 L561.1,332.5 L561.7,332.0 L562.2,331.6 L562.8,331.1 L563.4,330.8 L564.0,330.5 L564.6,330.2 L565.1,329.9 L565.7,329.7 L566.3,329.6 L566.8,329.5 L567.4,329.4 L567.9,329.4 L568.4,329.5 L568.9,329.6 L569.4,329.7 L569.8,329.9 L570.3,330.1 L570.7,330.4 L571.1,330.7 L571.4,331.1 L571.8,331.5 L572.1,332.0 L572.4,332.4 L572.6,333.0 L572.8,333.5 L573.0,334.1 L573.2,334.7 L573.3,335.4 L573.4,336.1 L573.5,336.8 L573.5,337.5 L573.5,338.3 L573.4,339.0 L573.3,339.8" class="ln" style="fill:none"/>
<path d="M555.9,332.5 L556.5,331.8 L557.0,331.1 L557.6,330.5 L558.2,329.9 L558.8,329.3 L559.4,328.8 L560.1,328.3 L560.7,327.9 L561.3,327.5 L561.9,327.2 L562.6,327.0 L563.2,326.8 L563.8,326.6 L564.4,326.5 L564.9,326.4 L565.5,326.4 L566.1,326.5 L566.6,326.6 L567.1,326.8 L567.6,327.0 L568.0,327.3 L568.5,327.6 L568.9,328.0 L569.2,328.4 L569.6,328.9 L569.9,329.4 L570.1,330.0 L570.4,330.6 L570.6,331.3 L570.7,331.9 L570.8,332.7 L570.9,333.4 L571.0,334.2 L571.0,335.0 L570.9,335.8 L570.9,336.6 L570.7,337.5 L570.6,338.4 L570.4,339.2" class="ln" style="fill:none;stroke-width:1.5"/>
<path d="M553.5,352.5 Q553,357 557,358 L561,358.5 Q562.5,356 561.5,354.5" class="o" style="stroke-width:1.1"/>
<ellipse cx="570.5" cy="348.0" rx="6.6" ry="9.8" transform="rotate(25 570.5 348.0)" class="o" />
<ellipse cx="570.8" cy="348.3" rx="5.0" ry="8.0" transform="rotate(25 570.8 348.3)" class="ln" style="stroke-width:1.4"/>
<path d="M557.5,330 l2.5,-1.5 M563,327.5 l3,-0.5 M571,329.5 l2,1.5 M556.5,337.5 l0.4,2.5 M558,348 l0.5,2" class="ln" style="stroke-width:1.6"/>
<path d="M569.5,345.5 L576.5,345 L581,349 L581,353 L574,353.5 L569.5,350 Z" class="o"/>
<line x1="576.5" y1="345.0" x2="576.5" y2="349.2" class="ln" />
<line x1="576.5" y1="349.2" x2="581.0" y2="353.0" class="ln" />
<circle cx="553" cy="339" r="0.9" style="fill:#111"/><circle cx="561" cy="332" r="0.9" style="fill:#111"/><circle cx="558" cy="352" r="0.9" style="fill:#111"/>
<line x1="539.0" y1="336.0" x2="537.0" y2="343.0" class="ln" style="stroke-width:1.6"/>
<path d="M586.5,356.5 L592,354 L599.5,358 L600.8,364.5 L595,367.5 L587,364 Z" class="o" style="stroke-width:1.5"/>
<path d="M588,358.5 L593,360.5 M587.5,361.5 L592.5,363.5 M591.5,356 L596,358.5 M593,360.5 L593,366" class="ln" style="stroke-width:1.3"/>
<ellipse cx="597.5" cy="363.2" rx="2.6" ry="3.6" transform="rotate(25 597.5 363.2)" class="o" style="stroke-width:1.3"/>
<path d="M608,368.5 L615,371.5 L614,374 L607,371 Z" class="o"/>
<ellipse cx="616.5" cy="373.5" rx="2.5" ry="3.0" transform="rotate(25 616.5 373.5)" class="dk" />
<path d="M620.2,386.0 L620.3,384.7 L620.5,383.3 L620.8,382.0 L621.1,380.7 L621.6,379.4 L622.1,378.1 L622.7,376.9 L623.4,375.7 L624.2,374.6 L625.1,373.5 L626.0,372.6 L626.9,371.6 L627.9,370.8 L629.0,370.1 L630.0,369.5 L631.1,369.0 L632.2,368.6 L633.3,368.3 L634.5,368.1 L635.6,368.0 L636.6,368.1 L637.7,368.2 L638.7,368.5 L639.7,368.9 L641.5,369.7 L642.4,370.2 L643.3,370.8 L644.1,371.5 L644.8,372.3 L645.4,373.2 L646.0,374.1 L646.5,375.2 L646.9,376.3 L647.2,377.5 L647.4,378.7 L647.5,379.9 L647.6,381.2 L647.5,382.5 L647.3,383.9 L647.0,385.2 L646.7,386.5 L646.2,387.8 L645.7,389.1 L645.1,390.3 L644.4,391.5 L643.6,392.6 L642.7,393.7 L641.8,394.6 L640.9,395.6 L639.9,396.4 L638.8,397.1 L637.8,397.7 L636.7,398.2 L635.6,398.6 L634.5,398.9 L633.3,399.1 L632.2,399.2 L631.2,399.1 L630.1,399.0 L629.1,398.7 L628.1,398.3 L626.3,397.5 L625.4,397.0 L624.5,396.4 L623.7,395.7 L623.0,394.9 L622.4,394.0 L621.8,393.1 L621.3,392.0 L620.9,390.9 L620.6,389.7 L620.4,388.5 L620.3,387.3 Z" class="o" style="stroke-width:2"/><ellipse cx="634.8" cy="384.0" rx="12.0" ry="15.8" transform="rotate(25 634.8 384.0)" class="o" style="stroke-width:2"/>
<ellipse cx="635.3" cy="384.0" rx="10.4" ry="14.2" transform="rotate(25 635.3 384.0)" class="ln" style="stroke-width:1"/>
<ellipse cx="636.2" cy="383.9" rx="7.6" ry="11.6" transform="rotate(25 636.2 383.9)" class="o" style="stroke-width:2.2"/>
<ellipse cx="636.5" cy="384.0" rx="5.9" ry="9.9" transform="rotate(25 636.5 384.0)" class="ln" style="stroke-width:1"/>
<path d="M635.5,370.5 l1.5,-1.8 M644,375.5 l2.2,-0.6 M624,392 l-2,0.8 M628.5,398 l-1.2,1.8" style="stroke:#fff;stroke-width:1.6"/>
<line x1="630.0" y1="380.5" x2="643.0" y2="388.0" class="ln" style="stroke-width:0.9"/>
<line x1="679.3" y1="371.0" x2="705.5" y2="386.9" style="stroke:#111;stroke-width:4.2;stroke-linecap:round"/><line x1="679.3" y1="371.0" x2="705.5" y2="386.9" style="stroke:#fff;stroke-width:2"/><circle cx="705.5" cy="386.9" r="2.8" class="dk"/><circle cx="679.3" cy="371.0" r="2" class="dk"/>
<line x1="617.5" y1="406.1" x2="644.3" y2="422.3" style="stroke:#111;stroke-width:4.2;stroke-linecap:round"/><line x1="617.5" y1="406.1" x2="644.3" y2="422.3" style="stroke:#fff;stroke-width:2"/><circle cx="644.3" cy="422.3" r="2.8" class="dk"/><circle cx="617.5" cy="406.1" r="2" class="dk"/>
<ellipse cx="709.0" cy="427.0" rx="12.0" ry="16.0" transform="rotate(25 709.0 427.0)" class="none" style="stroke:#111;stroke-width:2.2;fill:none"/>
<ellipse cx="709.0" cy="427.0" rx="10.0" ry="14.0" transform="rotate(25 709.0 427.0)" class="none" style="stroke:#fff;stroke-width:0.6;fill:none"/>
<path d="M721.0,449.4 L721.1,447.6 L721.3,445.7 L721.7,443.9 L722.2,442.1 L722.9,440.3 L723.6,438.6 L724.5,436.9 L725.4,435.2 L726.5,433.7 L727.7,432.2 L728.9,430.8 L730.2,429.6 L731.6,428.4 L733.0,427.4 L734.4,426.6 L735.9,425.8 L737.4,425.3 L739.0,424.8 L740.5,424.6 L742.0,424.5 L743.4,424.5 L744.8,424.7 L746.2,425.1 L747.5,425.6 L748.8,426.3 L749.9,427.1 L764.2,437.2 L765.1,438.0 L765.9,439.0 L766.6,440.0 L767.3,441.1 L767.8,442.3 L768.3,443.5 L768.6,444.9 L768.8,446.3 L768.9,447.7 L768.9,449.2 L768.8,450.7 L768.6,452.2 L768.3,453.7 L767.9,455.3 L767.4,456.7 L766.7,458.2 L766.0,459.6 L765.2,461.0 L764.3,462.3 L763.4,463.5 L762.3,464.6 L761.3,465.7 L760.1,466.6 L758.9,467.5 L757.7,468.2 L756.5,468.8 L755.2,469.3 L754.0,469.6 L752.7,469.9 L751.5,470.0 L750.2,469.9 L749.0,469.7 L731.8,466.1 L730.4,465.7 L729.1,465.2 L727.8,464.5 L726.7,463.7 L725.6,462.7 L724.6,461.7 L723.7,460.4 L723.0,459.1 L722.3,457.7 L721.8,456.2 L721.4,454.6 L721.1,452.9 L721.0,451.1 Z" class="o" /><ellipse cx="754.5" cy="452.5" rx="13.5" ry="18.2" transform="rotate(25 754.5 452.5)" class="o" />
<ellipse cx="760.5" cy="456.8" rx="6.7" ry="10.9" transform="rotate(25 760.5 456.8)" class="o" style="stroke-width:2"/>
<line x1="755.0" y1="456.0" x2="766.0" y2="458.0" class="ln" style="stroke-width:0.8"/>
<line x1="762.0" y1="447.0" x2="759.0" y2="466.0" class="ln" style="stroke-width:0.8"/>
<path d="M795.6,498 L799.5,537.5 Q804,541.5 808.5,537 L804.8,498 Z" class="o"/>
<path d="M771.2,479.6 L771.3,477.8 L771.4,476.0 L771.7,474.2 L772.1,472.4 L772.6,470.6 L773.3,468.8 L774.0,467.0 L774.9,465.3 L775.9,463.6 L776.9,462.1 L778.1,460.6 L779.3,459.2 L780.6,457.9 L781.9,456.7 L783.3,455.7 L784.7,454.8 L786.2,454.0 L787.6,453.4 L789.1,453.0 L790.5,452.7 L792.0,452.5 L793.4,452.6 L794.7,452.7 L796.0,453.1 L797.3,453.6 L798.5,454.2 L812.5,463.0 L813.5,463.7 L814.4,464.5 L815.3,465.5 L816.0,466.6 L816.7,467.8 L817.2,469.0 L817.6,470.4 L817.9,471.9 L818.2,473.4 L818.2,474.9 L818.2,476.6 L818.1,478.2 L817.8,479.9 L817.4,481.5 L817.0,483.2 L816.4,484.8 L815.7,486.4 L814.9,488.0 L814.0,489.5 L813.1,490.9 L812.0,492.3 L810.9,493.5 L809.8,494.7 L808.5,495.7 L807.3,496.7 L806.0,497.5 L804.7,498.2 L803.4,498.7 L802.0,499.2 L800.7,499.4 L799.4,499.6 L798.1,499.5 L796.9,499.4 L795.7,499.1 L780.0,493.9 L778.7,493.4 L777.5,492.8 L776.4,492.0 L775.4,491.1 L774.5,490.0 L773.7,488.8 L773.0,487.5 L772.4,486.1 L771.9,484.6 L771.6,483.0 L771.3,481.3 Z" class="o" /><ellipse cx="803.0" cy="480.5" rx="14.0" ry="20.0" transform="rotate(25 803.0 480.5)" class="o" />
<path d="M791.9,498.1 L791.1,497.5 L790.4,496.7 L789.8,495.9 L789.2,495.0 L788.6,494.0 L788.1,493.0 L787.7,491.9 L787.4,490.8 L787.1,489.6 L786.9,488.4 L786.8,487.1 L786.8,485.8 L786.8,484.5 L786.9,483.2 L787.1,481.9 L787.3,480.5 L787.6,479.2 L788.0,477.8 L788.4,476.5 L788.9,475.2 L789.5,473.9 L790.2,472.6 L790.9,471.4 L791.6,470.2 L792.4,469.1 L793.3,468.0 L794.2,467.0 L795.1,466.0 L796.1,465.1 L797.1,464.3 L798.1,463.6 L799.1,462.9 L800.2,462.3 L801.3,461.7 L802.4,461.3 L803.5,461.0 L804.5,460.7 L805.6,460.5 L806.7,460.4" class="ln" style="fill:none"/>
<ellipse cx="804.5" cy="482.0" rx="3.3" ry="1.9" transform="rotate(-30 804.5 482.0)" class="dk" />
<circle cx="813.4" cy="488.8" r="0.8" style="fill:#111"/><circle cx="797.3" cy="498" r="0.8" style="fill:#111"/>
<ellipse cx="782.6" cy="510.7" rx="2.6" ry="4.2" transform="rotate(25 782.6 510.7)" class="dk" />
<circle cx="763.4" cy="546.8" r="3.2" class="dk"/>
<path d="M796.6,338.4 L796.6,337.3 L796.7,336.1 L797.0,335.0 L797.2,333.9 L797.6,332.8 L798.0,331.7 L798.5,330.7 L799.1,329.7 L799.7,328.7 L800.4,327.8 L801.1,327.0 L801.9,326.2 L802.7,325.5 L803.6,324.9 L804.4,324.4 L805.3,324.0 L806.2,323.7 L807.2,323.4 L808.1,323.3 L809.0,323.2 L809.8,323.3 L810.7,323.5 L811.5,323.7 L812.4,324.0 L818.9,327.0 L819.6,327.5 L820.3,328.0 L821.0,328.6 L821.6,329.3 L822.1,330.1 L822.6,330.9 L823.0,331.8 L823.4,332.8 L823.6,333.8 L823.8,334.8 L823.9,335.9 L823.9,337.0 L823.9,338.1 L823.8,339.3 L823.5,340.4 L823.3,341.5 L822.9,342.6 L822.5,343.7 L822.0,344.7 L821.4,345.7 L820.8,346.7 L820.1,347.6 L819.4,348.4 L818.6,349.2 L817.8,349.9 L816.9,350.5 L816.1,351.0 L815.2,351.4 L814.3,351.7 L813.3,352.0 L812.4,352.1 L811.5,352.2 L810.7,352.1 L809.8,351.9 L809.0,351.7 L808.1,351.4 L801.6,348.4 L800.9,347.9 L800.2,347.4 L799.5,346.8 L798.9,346.1 L798.4,345.3 L797.9,344.5 L797.5,343.6 L797.1,342.6 L796.9,341.6 L796.7,340.6 L796.6,339.5 Z" class="g" style="stroke-width:1.3;stroke:#999"/><ellipse cx="813.5" cy="339.2" rx="10.0" ry="13.3" transform="rotate(20 813.5 339.2)" class="g" style="stroke-width:1.3;stroke:#999"/>
<path d="M801.4,348.4 L800.8,348.0 L800.2,347.5 L799.6,347.0 L799.0,346.4 L798.5,345.8 L798.0,345.1 L797.6,344.4 L797.3,343.6 L797.0,342.8 L796.7,341.9 L796.6,341.0 L796.4,340.1 L796.4,339.1 L796.4,338.2 L796.4,337.2 L796.5,336.2 L796.7,335.2 L796.9,334.2 L797.2,333.3 L797.6,332.3 L798.0,331.4 L798.4,330.5 L798.9,329.6 L799.5,328.8 L800.1,328.0 L800.7,327.3 L801.3,326.6 L802.0,325.9 L802.8,325.4 L803.5,324.9 L804.3,324.4 L805.0,324.0 L805.8,323.7 L806.6,323.5 L807.4,323.3 L808.2,323.3 L809.0,323.2 L809.8,323.3 L810.5,323.5" class="ln" style="fill:none;stroke:#aaa;stroke-width:2.6"/>
<path d="M807.9,350.0 L807.4,349.6 L806.9,349.1 L806.4,348.6 L806.0,348.1 L805.6,347.5 L805.3,346.9 L805.0,346.2 L804.7,345.5 L804.5,344.8 L804.3,344.0 L804.2,343.2 L804.1,342.4 L804.1,341.6 L804.1,340.8 L804.2,339.9 L804.3,339.1 L804.4,338.2 L804.6,337.4 L804.9,336.5 L805.2,335.7 L805.5,334.9 L805.9,334.1 L806.3,333.4 L806.8,332.6 L807.3,332.0 L807.8,331.3 L808.4,330.7 L808.9,330.1 L809.5,329.6 L810.2,329.1 L810.8,328.7 L811.5,328.3 L812.1,328.0 L812.8,327.8 L813.5,327.6 L814.2,327.4 L814.8,327.3 L815.5,327.3 L816.1,327.4" class="ln" style="fill:none;stroke:#aaa;stroke-width:1"/>
<path d="M810.5,332 Q816,326.5 821.5,330 Q826,334 825,341 Q823.5,347 818,349.5 Q812,351.5 809,347 Q806.5,340 810.5,332 Z" class="g" style="stroke:#8a8a8a;stroke-width:1.2"/>
<path d="M813,334 Q817,338 813.5,346 M817,333.5 Q821,338 818,347 M810,341.5 L821,339" class="g" style="fill:none;stroke:#8a8a8a;stroke-width:1.1"/>
<ellipse cx="822.5" cy="337.0" rx="1.1" ry="1.8" transform="rotate(20 822.5 337.0)" class="g" style="stroke:#888"/>
<rect x="64.6" y="328.9" width="142.4" height="241.6" class="bx"/>
<line x1="64.6" y1="417.0" x2="207.0" y2="417.0" class="bx" style="stroke-width:1.9"/>
<line x1="64.6" y1="483.0" x2="207.0" y2="483.0" class="bx" style="stroke-width:1.9"/>
<line x1="122.8" y1="328.9" x2="122.8" y2="417.0" class="bx" style="stroke-width:1.6;stroke:#444"/>
<line x1="143.0" y1="417.0" x2="143.0" y2="483.0" class="bx" style="stroke-width:1.6;stroke:#444"/>
<line x1="122.7" y1="483.0" x2="122.7" y2="570.5" class="bx" style="stroke-width:1.6;stroke:#444"/>
<line x1="68.9" y1="348.4" x2="112.1" y2="348.4" class="bx" style="stroke-width:1.5;stroke:#555"/>
<line x1="71.0" y1="438.7" x2="136.2" y2="438.7" class="bx" style="stroke-width:1.5;stroke:#555"/>
<line x1="68.9" y1="502.4" x2="112.1" y2="502.4" class="bx" style="stroke-width:1.5;stroke:#555"/>
<path d="M78.2,380.9 L78.2,380.0 L78.3,379.1 L78.5,378.1 L78.7,377.2 L79.0,376.2 L79.3,375.2 L79.7,374.3 L80.1,373.4 L80.5,372.5 L81.0,371.7 L81.5,370.9 L82.1,370.1 L82.7,369.5 L83.3,368.8 L83.9,368.3 L84.5,367.8 L85.2,367.4 L85.8,367.0 L86.4,366.8 L87.1,366.6 L87.7,366.5 L88.3,366.5 L88.9,366.5 L89.4,366.7 L90.0,366.9 L98.0,370.9 L98.5,371.2 L98.9,371.6 L99.3,372.1 L99.7,372.7 L100.0,373.3 L100.3,373.9 L100.5,374.7 L100.7,375.5 L100.8,376.3 L100.8,377.2 L100.8,378.1 L100.8,379.0 L100.7,379.9 L100.5,380.9 L100.3,381.8 L100.0,382.8 L99.7,383.8 L99.3,384.7 L98.9,385.6 L98.5,386.5 L98.0,387.3 L97.5,388.1 L96.9,388.9 L96.3,389.5 L95.7,390.2 L95.1,390.7 L94.5,391.2 L93.8,391.6 L93.2,392.0 L92.6,392.2 L91.9,392.4 L91.3,392.5 L90.7,392.5 L90.1,392.5 L89.6,392.3 L89.0,392.1 L81.0,388.1 L80.5,387.8 L80.1,387.4 L79.7,386.9 L79.3,386.3 L79.0,385.7 L78.7,385.1 L78.5,384.3 L78.3,383.5 L78.2,382.7 L78.2,381.8 Z" class="g" style="stroke:#a8a8a8;stroke-width:1.2"/><path d="M86.1,384.9 L86.2,384.0 L86.3,383.1 L86.5,382.1 L86.7,381.1 L87.0,380.2 L87.3,379.2 L87.6,378.3 L88.1,377.4 L88.5,376.5 L89.0,375.7 L89.5,374.9 L90.1,374.1 L90.7,373.4 L91.3,372.8 L91.9,372.3 L92.5,371.8 L93.2,371.3 L93.8,371.0 L94.4,370.7 L95.1,370.6 L95.7,370.5 L96.3,370.5 L96.9,370.5 L97.4,370.7 L98.0,370.9 L98.5,371.3 L98.9,371.6 L104.8,377.6 L105.2,378.0 L105.5,378.4 L105.7,378.9 L105.9,379.5 L106.1,380.0 L106.2,380.7 L106.3,381.3 L106.4,382.0 L106.4,382.7 L106.3,383.5 L106.3,384.2 L106.1,385.0 L106.0,385.8 L105.7,386.6 L105.5,387.3 L105.2,388.1 L104.9,388.8 L104.5,389.5 L104.1,390.2 L103.7,390.8 L103.2,391.4 L102.8,391.9 L102.3,392.4 L101.8,392.9 L101.3,393.3 L100.8,393.6 L100.3,393.9 L99.8,394.1 L99.2,394.2 L98.7,394.3 L98.3,394.3 L97.8,394.3 L90.1,392.5 L89.6,392.3 L89.0,392.1 L88.5,391.7 L88.1,391.4 L87.7,390.9 L87.3,390.3 L87.0,389.7 L86.7,389.1 L86.5,388.3 L86.3,387.5 L86.2,386.7 L86.1,385.8 Z" class="g" style="fill:#b8b8b8;stroke:#9a9a9a;stroke-width:1"/><path d="M100.5,373.8 L101.0,374.0 L101.4,374.3 L101.8,374.6 L102.1,375.0 L102.5,375.4 L102.7,375.9 L103.0,376.4 L103.2,377.0 L103.4,377.6 L103.5,378.3 L103.6,379.0 L103.6,379.7 L103.6,380.4 L103.6,381.2 L103.5,382.0 L103.4,382.8 L103.2,383.6 L103.0,384.4 L102.8,385.2 L102.5,385.9 L102.2,386.7 L101.8,387.4 L101.4,388.2 L101.0,388.9 L100.6,389.5 L100.1,390.1 L99.6,390.7 L99.1,391.2 L98.6,391.7 L98.1,392.1 L97.6,392.5 L97.0,392.8 L96.5,393.0 L96.0,393.2 L95.4,393.3 L94.9,393.4 L94.4,393.4 L93.9,393.3 L93.5,393.2" class="ln" style="fill:none;stroke:#999;stroke-width:0.7"/><ellipse cx="100.5" cy="385.5" rx="5.3" ry="9.2" transform="rotate(20 100.5 385.5)" class="g" style="stroke:#999;stroke-width:1.2"/><ellipse cx="101.3" cy="386.0" rx="3.4" ry="6.6" transform="rotate(20 101.3 386.0)" class="g" style="stroke:#a5a5a5;stroke-width:1"/><path d="M99.0,381.5 L103.0,383.0 M98.5,388.5 L102.5,390.0" class="g" style="stroke:#aaa;stroke-width:1"/>
<line x1="147.4" y1="359.4" x2="147.4" y2="402.1" class="ln" style="stroke-width:1.2"/>
<line x1="132.2" y1="366.1" x2="138.8" y2="359.9" class="ln" style="stroke-width:1.1"/>
<line x1="133.8" y1="370.6" x2="144.9" y2="360.3" class="ln" style="stroke-width:1.1"/>
<line x1="141.2" y1="370.2" x2="147.0" y2="365.2" class="ln" style="stroke-width:1.1"/>
<line x1="132.2" y1="391.0" x2="134.7" y2="389.4" class="ln" style="stroke-width:1.1"/>
<line x1="132.2" y1="399.7" x2="140.4" y2="391.5" class="ln" style="stroke-width:1.1"/>
<line x1="136.7" y1="402.1" x2="147.0" y2="391.9" class="ln" style="stroke-width:1.1"/>
<line x1="143.3" y1="402.1" x2="147.0" y2="398.9" class="ln" style="stroke-width:1.1"/>
<defs><linearGradient id="gw" x1="0" x2="1"><stop offset="0" stop-color="#fff"/><stop offset="0.45" stop-color="#999"/><stop offset="1" stop-color="#fff"/></linearGradient></defs>
<rect x="139.2" y="373.6" width="8.2" height="14.4" style="fill:url(#gw);stroke:#111;stroke-width:1"/>
<rect x="147.8" y="372.2" width="6.5" height="16.8" class="o" style="stroke-width:1"/>
<rect x="128.1" y="373.8" width="11.1" height="14.2" class="o" rx="1" style="stroke-width:2.2"/>
<rect x="155.2" y="371.9" width="13.1" height="18" class="o" rx="1" style="stroke-width:2.2"/>
<line x1="169.3" y1="380.8" x2="175.6" y2="380.8" class="ln" style="stroke:#888"/>
<rect x="176.2" y="369.6" width="13.8" height="22.4" class="g" rx="1" style="stroke-width:1.5;stroke:#a5a5a5"/>
<rect x="190" y="371.5" width="6.3" height="19" class="g" style="stroke-width:1.3;stroke:#a5a5a5"/>
<line x1="147.4" y1="359.1" x2="170.0" y2="359.1" class="ln" />
<path d="M175.3,359.1 L168.6,357.3 L168.6,360.9 Z" style="fill:#111"/>
<line x1="175.6" y1="355.8" x2="175.6" y2="369.6" class="ln" />
<line x1="190.6" y1="355.8" x2="190.6" y2="371.5" class="ln" />
<line x1="204.5" y1="359.1" x2="196.0" y2="359.1" class="ln" />
<path d="M191.2,359.1 L197.5,357.4 L197.5,360.8 Z" style="fill:#111"/>
<path d="M85,459.5 L119.1,450.7 Q122,450 124.8,451.2 M85.8,467.7 L118.3,458.8 Q121,458.5 124.5,460" class="g" style="stroke-width:1.2"/>
<path d="M85,459.5 Q83.5,457 81.5,457.2 Q78.5,457.2 76,459.5 L72.3,463.5 Q71.2,465.3 73,465.5 L75.5,464.5 Q78.5,464.5 78.6,467 Q78.2,469.8 75.5,470.5 L72.2,471.6 Q70.8,473.5 72.8,474 Q75.5,474.6 78.2,474 Q81,472.8 82.8,470.6 L85.8,467.7" class="g" style="stroke-width:1.2"/>
<ellipse cx="130.9" cy="456.2" rx="6.3" ry="7.2" transform="rotate(0 130.9 456.2)" class="g" style="stroke-width:1.2"/>
<ellipse cx="130.9" cy="456.2" rx="5.3" ry="6.2" transform="rotate(0 130.9 456.2)" class="g" style="stroke-width:0.6"/>
<path d="M126,452 L132,451.4 L135,455.5 L133.5,460.5 L127.5,461.3 L124.8,457 Z" class="g" style="stroke-width:1.1"/>
<line x1="119.3" y1="452.8" x2="118.6" y2="458.2" class="g" style="stroke-width:0.8"/>
<path d="M164.0,457.1 L164.0,456.4 L164.1,455.6 L164.2,454.9 L164.3,454.1 L164.5,453.4 L164.8,452.6 L165.1,451.9 L165.4,451.2 L165.8,450.5 L166.2,449.8 L166.6,449.2 L167.1,448.7 L167.6,448.1 L168.1,447.7 L168.6,447.2 L169.2,446.9 L169.7,446.6 L170.3,446.3 L170.9,446.1 L171.4,446.0 L172.0,446.0 L172.5,446.0 L173.1,446.1 L173.6,446.2 L179.4,448.4 L179.9,448.6 L180.3,448.9 L180.8,449.2 L181.1,449.6 L181.5,450.0 L181.8,450.5 L182.0,451.0 L182.3,451.6 L182.4,452.2 L182.6,452.8 L182.7,453.5 L182.7,454.2 L182.7,454.9 L182.6,455.6 L182.5,456.3 L182.4,457.1 L182.2,457.8 L182.0,458.5 L181.7,459.2 L181.4,459.9 L181.0,460.5 L180.6,461.1 L180.2,461.7 L179.7,462.3 L179.3,462.8 L178.8,463.2 L178.3,463.6 L177.8,464.0 L177.2,464.3 L176.7,464.5 L176.1,464.7 L175.6,464.8 L175.1,464.8 L174.5,464.8 L174.0,464.7 L167.9,463.3 L167.4,463.2 L166.9,463.0 L166.5,462.7 L166.0,462.4 L165.6,462.0 L165.3,461.5 L165.0,461.0 L164.7,460.5 L164.5,459.9 L164.3,459.2 L164.1,458.6 L164.0,457.9 Z" class="o" style="stroke-width:1.9"/>
<ellipse cx="176.6" cy="456.7" rx="5.4" ry="8.2" transform="rotate(20 176.6 456.7)" class="o" style="stroke-width:1.6"/>
<ellipse cx="176.1" cy="456.6" rx="4.2" ry="7.0" transform="rotate(20 176.1 456.6)" class="dk" />
<path d="M167.5,449 L171.5,448.5 M165.5,454 L170.2,453.5 M165.5,458.5 L170.3,459 M167,463 L172,463.5" class="ln" style="stroke-width:1"/>
<path d="M136.2,524 L136.2,493.5 A4.5,4.5 0 0 1 145.2,493.5 L145.2,524" class="o" style="stroke-width:1.3"/>
<rect x="136.2" y="498" width="9" height="27" style="fill:#111"/>
<circle cx="140.7" cy="525" r="7.4" style="fill:#111"/>
<line x1="140.7" y1="490.0" x2="140.7" y2="496.5" class="ln" />
<line x1="138.0" y1="493.0" x2="143.4" y2="493.0" class="ln" />
<path d="M128.3,500.8 L132.5,500.8 L132.5,512.8 L134.9,512.8 L130.4,518.2 L125.8,512.8 L128.3,512.8 Z" class="o" style="stroke-width:1.4"/>
<path d="M180.6,517.2 L180.6,559.2 A7.0,7.0 0 0 0 194.6,559.2 L194.6,517.2" class="ln" transform="rotate(54 187.6 517.2)" style="stroke-dasharray:3.6 2.2;stroke-width:1.1;stroke:#333"/>
<path d="M180.6,517.2 L180.6,559.2 A7.0,7.0 0 0 0 194.6,559.2 L194.6,517.2" class="ln" transform="rotate(29 187.6 517.2)" style="stroke-dasharray:3.6 2.2;stroke-width:1.1;stroke:#333"/>
<ellipse cx="187.6" cy="517.2" rx="14.2" ry="13.2" transform="rotate(0 187.6 517.2)" class="o" style="stroke-width:2.3"/>
<path d="M185.4,528.8 L184.5,528.6 L183.6,528.4 L182.7,528.1 L181.9,527.8 L181.1,527.4 L180.3,526.9 L179.6,526.4 L178.9,525.9 L178.3,525.3 L177.6,524.6 L177.1,523.9 L176.6,523.2 L176.2,522.5 L175.8,521.7 L175.5,520.9 L175.2,520.1 L175.0,519.3 L174.9,518.5 L174.8,517.6 L174.8,516.8 L174.9,515.9 L175.0,515.1 L175.2,514.3 L175.5,513.5 L175.8,512.7 L176.2,511.9 L176.6,511.2 L177.1,510.5 L177.6,509.8 L178.3,509.1 L178.9,508.5 L179.6,508.0 L180.3,507.5 L181.1,507.0 L181.9,506.6 L182.7,506.3 L183.6,506.0 L184.5,505.8 L185.4,505.6" class="ln" style="fill:none;stroke-width:0.8"/>
<path d="M180.5,504.5 L180.5,558.5 A6.9,6.9 0 0 0 194.3,558.5 L194.3,504.5" class="o" style="stroke-width:1.7"/>
<rect x="183" y="516.6" width="8.1" height="2.9" rx="1.2" style="fill:#111"/>
<path d="M70.5,537.5 L71,542 M116,535 L115.8,540.5" class="g" style="stroke-width:1.1"/>
<path d="M115.9,541.5 L115.8,542.3 L115.6,543.2 L115.2,544.0 L114.7,544.8 L114.1,545.6 L113.3,546.4 L112.4,547.1 L111.4,547.8 L110.2,548.5 L109.0,549.1 L107.6,549.6 L106.1,550.1 L104.6,550.6 L103.0,551.0 L101.3,551.3 L99.6,551.6 L97.8,551.8 L96.0,551.9 L94.2,552.0 L92.4,552.0 L90.6,551.9 L88.8,551.8 L87.0,551.6 L85.3,551.3 L83.6,551.0 L82.0,550.6 L80.5,550.1 L79.0,549.6 L77.6,549.1 L76.4,548.5 L75.2,547.8 L74.2,547.1 L73.3,546.4 L72.5,545.6 L71.9,544.8 L71.4,544.0 L71.0,543.2 L70.8,542.3 L70.7,541.5" class="g" style="fill:none;stroke-width:1.1"/>
<path d="M115.3,546.0 L114.9,546.7 L114.5,547.4 L113.9,548.1 L113.3,548.8 L112.5,549.4 L111.7,550.1 L110.7,550.6 L109.7,551.2 L108.5,551.7 L107.3,552.2 L106.0,552.7 L104.7,553.1 L103.3,553.4 L101.9,553.7 L100.4,554.0 L98.8,554.2 L97.3,554.3 L95.7,554.4 L94.1,554.5 L92.5,554.5 L90.9,554.4 L89.3,554.3 L87.8,554.2 L86.2,554.0 L84.7,553.7 L83.3,553.4 L81.9,553.1 L80.6,552.7 L79.3,552.2 L78.1,551.7 L76.9,551.2 L75.9,550.6 L74.9,550.1 L74.1,549.4 L73.3,548.8 L72.7,548.1 L72.1,547.4 L71.7,546.7 L71.3,546.0" class="g" style="fill:none;stroke-width:1.1"/>
<ellipse cx="93.3" cy="536.5" rx="22.8" ry="10.8" transform="rotate(0 93.3 536.5)" class="g" style="stroke-width:1.1"/>
<path d="M76,530 C76,523 84,518.5 90.5,520 C95,515.5 104,514.5 108,519.5 C112,524 112,531 107,535 C101,539 97,540 94,540 C86,540.5 76,536.5 76,530 Z" class="g" style="stroke-width:1.1"/>
<path d="M85,524.5 Q91,529 94.5,539.5 M90.5,520 Q93,524 95.5,526 Q102,528 107.5,534.5 M88,523 Q95,526 96,530" class="g" style="fill:none;stroke-width:0.9"/>
<ellipse cx="81.2" cy="531.7" rx="1.2" ry="2.0" transform="rotate(15 81.2 531.7)" class="g" />
<ellipse cx="99.2" cy="522.3" rx="1.2" ry="2.0" transform="rotate(15 99.2 522.3)" class="g" />
<text x="533.20" y="156.00" style="font-size:18px">5</text>
<text x="206.60" y="216.70" style="font-size:18px">9</text>
<text x="284.50" y="260.60" style="font-size:18px">8</text>
<text x="561.90" y="275.70" style="font-size:18px">4</text>
<text x="442.90" y="294.70" style="font-size:18px">6</text>
<text x="442.90" y="341.60" style="font-size:18px">7</text>
<text x="683.30" y="315.50" style="font-size:18px">3</text>
<text x="798.30" y="386.10" style="font-size:18px">2</text>
<path d="M384.90,99.50 L384.90,112.40" style="stroke:#111;stroke-width:1.75;fill:none"/><path d="M384.70,100.00 Q383.30,102.30 380.30,102.80" style="stroke:#111;stroke-width:1.6;fill:none"/>
<text x="389.40" y="112.40" style="font-size:18px">2</text>
<path d="M846.40,312.50 L846.40,325.40" style="stroke:#111;stroke-width:1.75;fill:none"/><path d="M846.20,313.00 Q844.80,315.30 841.80,315.80" style="stroke:#111;stroke-width:1.6;fill:none"/>
<text x="851.10" y="325.40" style="font-size:18px">0</text>
<path d="M615.90,491.60 L615.90,504.50" style="stroke:#111;stroke-width:1.75;fill:none"/><path d="M615.70,492.10 Q614.30,494.40 611.30,494.90" style="stroke:#111;stroke-width:1.6;fill:none"/>
<path d="M85.50,332.50 L85.50,345.40" style="stroke:#111;stroke-width:1.75;fill:none"/><path d="M85.30,333.00 Q83.90,335.30 80.90,335.80" style="stroke:#111;stroke-width:1.6;fill:none"/>
<text x="89.50" y="345.40" style="font-size:18px">2</text>
<path d="M98.20,422.50 L98.20,435.40" style="stroke:#111;stroke-width:1.75;fill:none"/><path d="M98.00,423.00 Q96.60,425.30 93.60,425.80" style="stroke:#111;stroke-width:1.6;fill:none"/>
<path d="M108.60,422.50 L108.60,435.40" style="stroke:#111;stroke-width:1.75;fill:none"/><path d="M108.40,423.00 Q107.00,425.30 104.00,425.80" style="stroke:#111;stroke-width:1.6;fill:none"/>
<path d="M85.50,486.50 L85.50,499.40" style="stroke:#111;stroke-width:1.75;fill:none"/><path d="M85.30,487.00 Q83.90,489.30 80.90,489.80" style="stroke:#111;stroke-width:1.6;fill:none"/>
<text x="90.40" y="499.40" style="font-size:18px">0</text>
<text x="381.60" y="191.50" style="font-size:9.3px">30mm</text>
<text x="158.40" y="441.60" style="font-size:9.3px">30mm</text>
<text x="778.70" y="549.80" style="font-size:9.3px">3mm</text>
<text x="149.80" y="357.60" style="font-size:10.5px">+20</text>
</svg>
</body></html>
